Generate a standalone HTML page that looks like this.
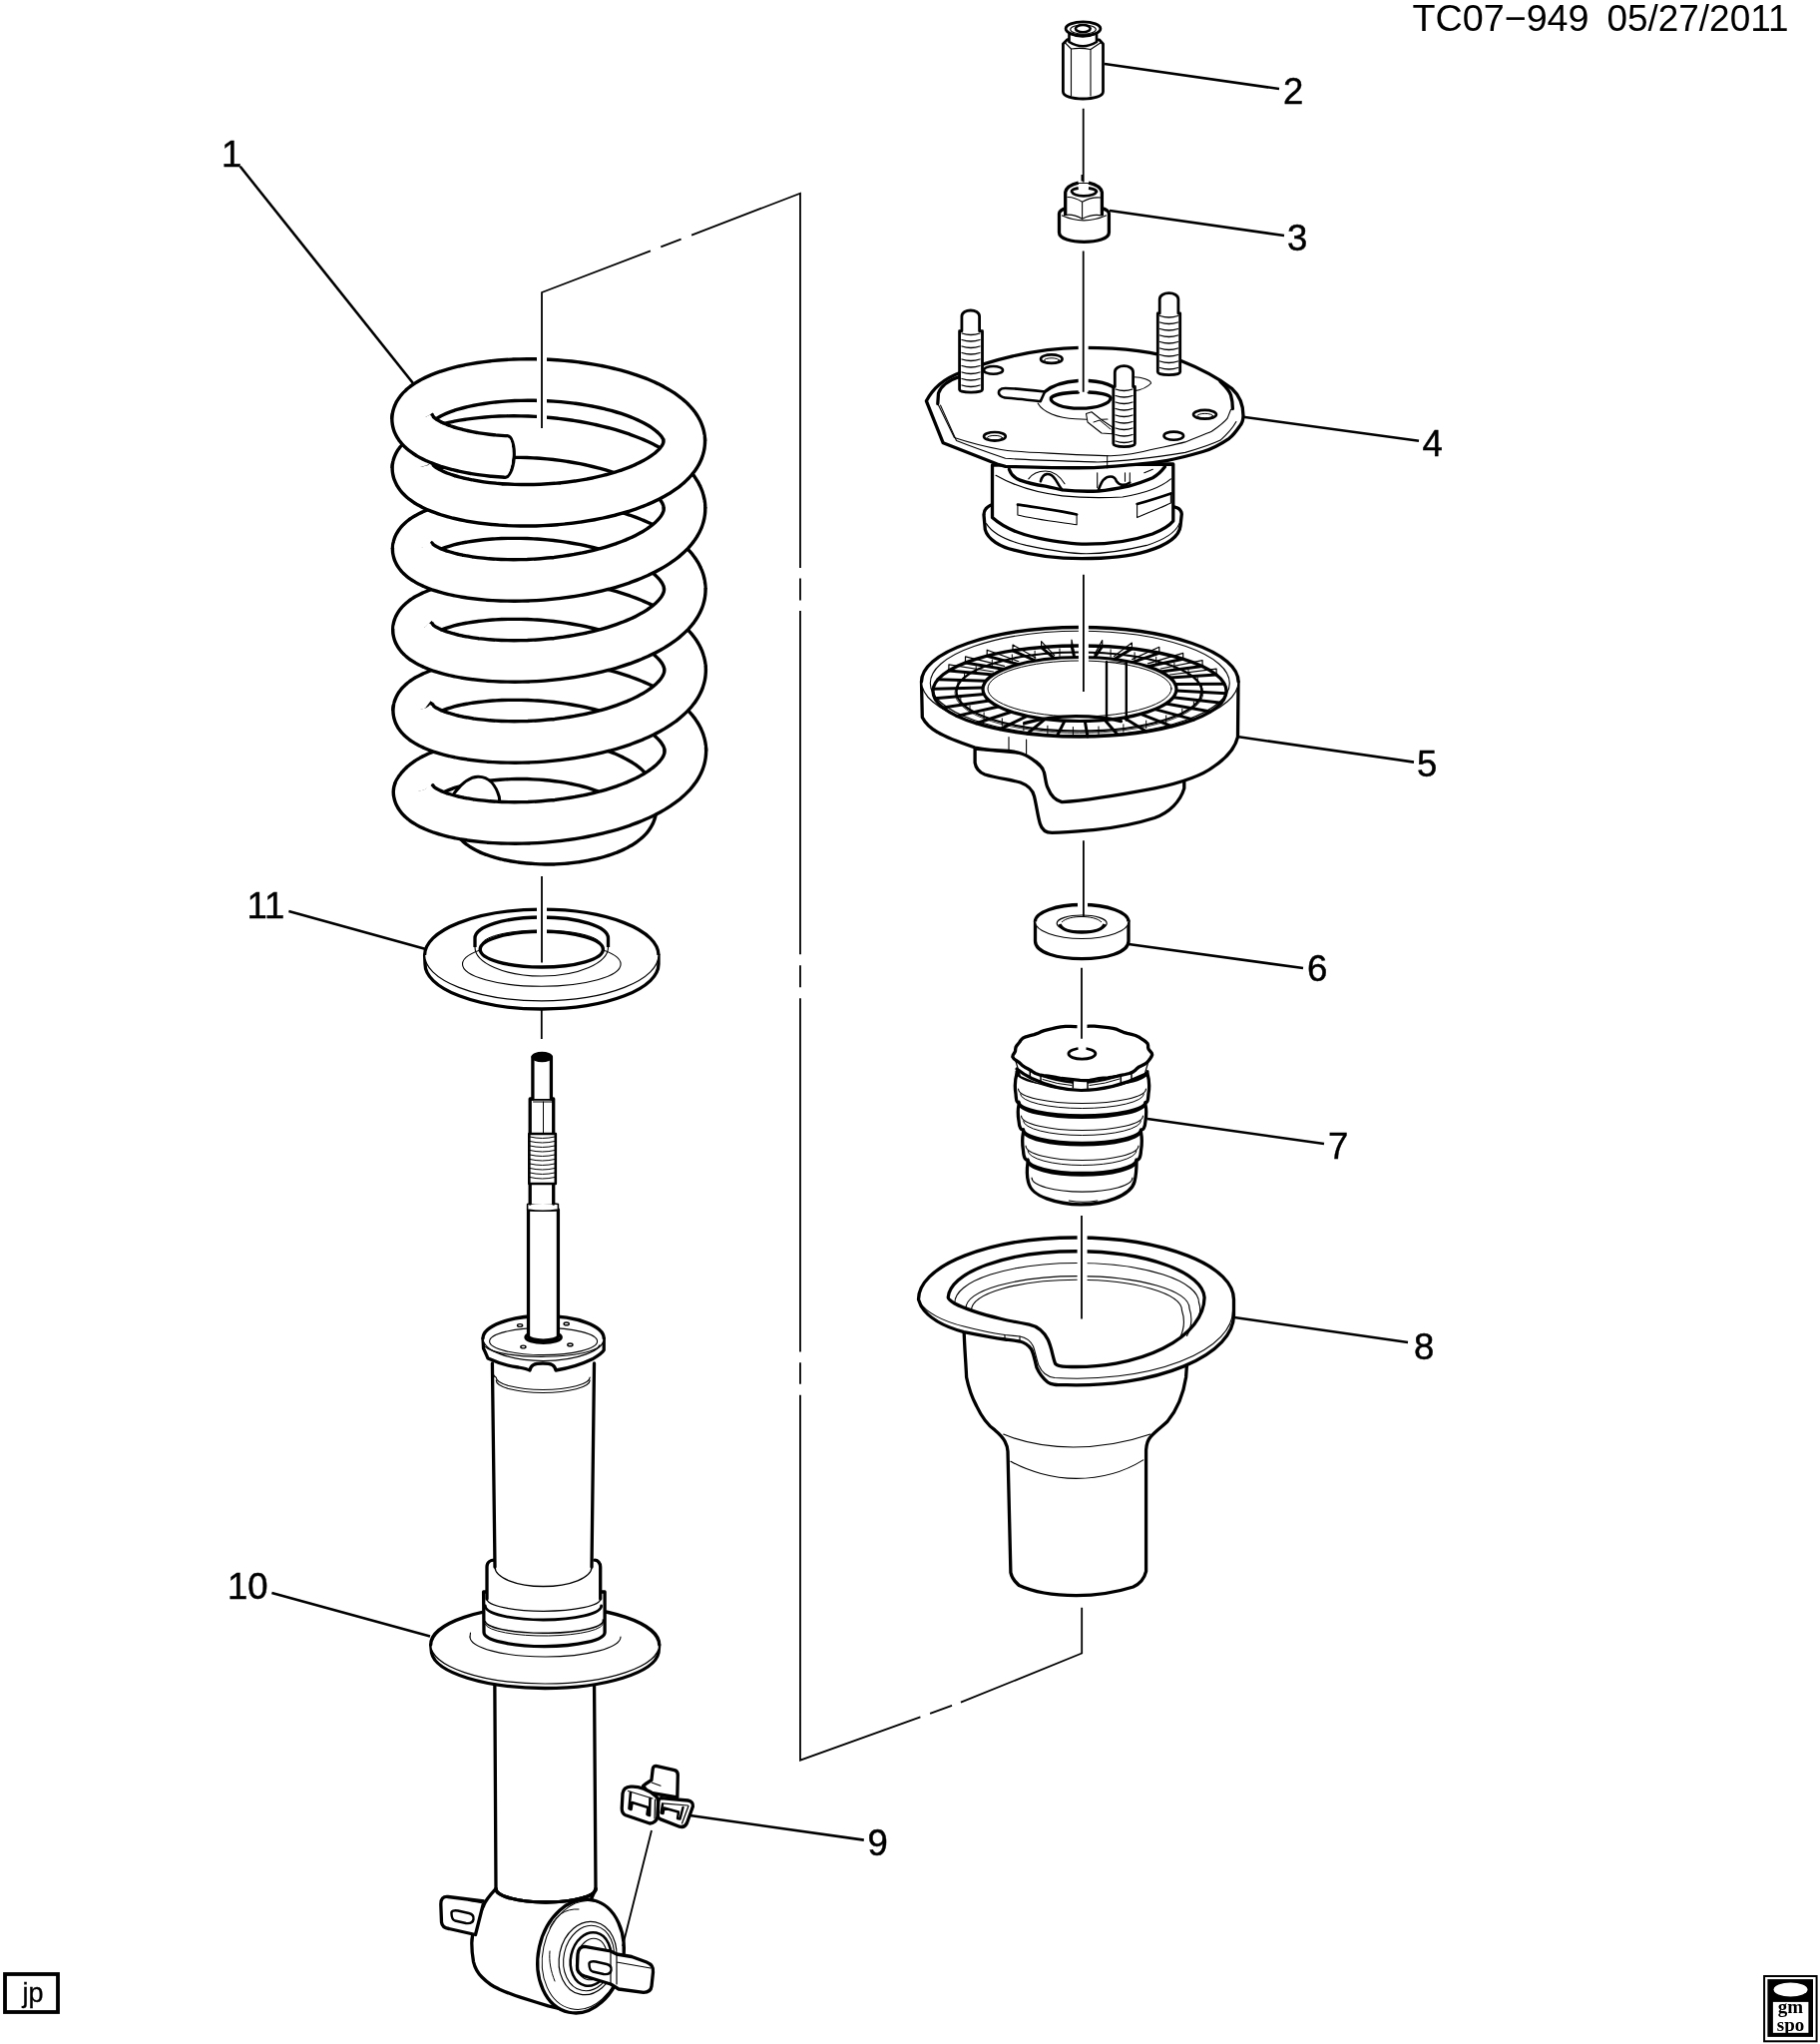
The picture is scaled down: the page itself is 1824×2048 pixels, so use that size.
<!DOCTYPE html>
<html><head><meta charset="utf-8">
<style>
html,body{margin:0;padding:0;background:#fff;}
body{width:1824px;height:2048px;overflow:hidden;}
svg{display:block;will-change:transform;}
text{font-family:"Liberation Sans",sans-serif;fill:#000;}
</style></head>
<body>
<svg width="1824" height="2048" viewBox="0 0 1824 2048">
<rect x="0" y="0" width="1824" height="2048" fill="#fff"/>
<!-- header -->
<text x="1415.5" y="31" font-size="37.5" textLength="177" lengthAdjust="spacingAndGlyphs">TC07&#8722;949</text>
<text x="1610.5" y="31" font-size="37.5" textLength="182" lengthAdjust="spacingAndGlyphs">05/27/2011</text>

<!-- labels -->
<g font-size="36.5" stroke="#000" stroke-width="0.45">
<text x="222" y="166.8">1</text>
<text x="1286" y="104.4">2</text>
<text x="1290" y="250.6">3</text>
<text x="1425.5" y="457">4</text>
<text x="1420" y="778">5</text>
<text x="1310" y="983">6</text>
<text x="1331" y="1161">7</text>
<text x="1417" y="1362">8</text>
<text x="869.5" y="1858.8">9</text>
<text x="228" y="1602.2">10</text>
<text x="247.5" y="919.8">11</text>
</g>

<!-- leader lines -->
<g stroke="#000" stroke-width="2.6" fill="none" stroke-linecap="butt">
<line x1="240.7" y1="166.8" x2="414" y2="384"/>
<line x1="1107" y1="64" x2="1282" y2="89"/>
<line x1="1112" y1="211" x2="1287" y2="236"/>
<line x1="1245.8" y1="417.7" x2="1422" y2="441.7"/>
<line x1="1241.4" y1="738.3" x2="1417" y2="763.6"/>
<line x1="1131" y1="946" x2="1306" y2="970"/>
<line x1="1150" y1="1121" x2="1327" y2="1146"/>
<line x1="1237" y1="1320" x2="1411" y2="1345"/>
<line x1="691.4" y1="1819" x2="865.8" y2="1843.6"/>
<line x1="272.4" y1="1595.9" x2="431" y2="1639.5"/>
<line x1="289.4" y1="912.9" x2="425.9" y2="950.8"/>
</g>

<g id="spring" fill="none" stroke-linecap="butt" stroke-linejoin="round">
<path d="M473.0,818.0 473.0,817.7 473.0,817.4 473.0,817.1 473.1,816.7 473.1,816.4 473.2,816.1 473.2,815.8 473.3,815.5 473.4,815.2 473.4,814.8 473.5,814.5 473.6,814.2 473.8,813.9 473.9,813.6 474.0,813.3 474.1,813.0 474.3,812.7 474.5,812.3 474.6,812.0 474.8,811.7 474.8,811.7" stroke="#000" stroke-width="44.9"/>
<path d="M473.0,818.0 473.0,817.7 473.0,817.4 473.0,817.1 473.1,816.7 473.1,816.4 473.2,816.1 473.2,815.8 473.3,815.5 473.4,815.2 473.4,814.8 473.5,814.5 473.6,814.2 473.8,813.9 473.9,813.6 474.0,813.3 474.1,813.0 474.3,812.7 474.5,812.3 474.6,812.0 474.8,811.7 474.8,811.7" stroke="#fff" stroke-width="38.1"/>
<path d="M415.0,793.0 415.2,792.5 415.4,792.1 415.6,791.6 415.9,791.1 416.2,790.7 416.4,790.2 416.7,789.8 417.0,789.3 417.3,788.9 417.7,788.4 418.0,788.0 418.4,787.5 418.7,787.1 419.1,786.6 419.5,786.2 420.0,785.7 420.4,785.3 420.8,784.9 421.3,784.4 421.8,784.0 422.2,783.6 422.7,783.2 423.3,782.7 423.8,782.3 424.3,781.9 424.9,781.5 425.4,781.1 426.0,780.7 426.6,780.3 427.2,779.8 427.8,779.4 428.4,779.1 429.1,778.7 429.7,778.3 430.4,777.9 431.1,777.5 431.7,777.1 432.4,776.7 433.1,776.4 433.9,776.0 437.6,774.2 441.7,772.5 446.0,770.8 450.5,769.3 455.3,767.9 460.2,766.6 465.4,765.4 470.7,764.3 476.2,763.3 481.8,762.4 487.5,761.7 493.3,761.1 499.2,760.6 505.2,760.2 511.2,759.9 517.2,759.8 523.3,759.7 529.3,759.8 535.3,760.1 541.3,760.4 547.2,760.8 553.0,761.4 558.7,762.1 564.3,762.8 569.8,763.7 575.2,764.7 580.4,765.8 585.4,766.9 590.3,768.2 594.9,769.5 599.4,771.0 603.7,772.5 607.7,774.0 611.5,775.7 615.1,777.4 618.4,779.1 621.5,780.9 624.4,782.7 627.0,784.6 629.3,786.5 631.3,788.5 633.1,790.4 634.7,792.4 636.0,794.4 637.0,796.4 637.1,796.8 637.3,797.2 637.5,797.6 637.6,798.0 637.7,798.4 637.8,798.8 638.0,799.2 638.1,799.6 638.1,799.9 638.2,800.3 638.3,800.7 638.3,801.1 638.4,801.5 638.4,801.9 638.5,802.3 638.5,802.7 638.5,803.1 638.5,803.5 638.5,803.9 638.5,804.3 638.4,804.7 638.4,805.1 638.3,805.4 638.3,805.8 638.2,806.2 638.1,806.6 638.0,807.0 637.9,807.4 637.8,807.7 637.7,808.1 637.6,808.5 637.5,808.9 637.3,809.3 637.2,809.6 637.0,810.0 637.0,810.0" stroke="#000" stroke-width="44.9"/>
<path d="M415.0,793.0 415.2,792.5 415.4,792.1 415.6,791.6 415.9,791.1 416.2,790.7 416.4,790.2 416.7,789.8 417.0,789.3 417.3,788.9 417.7,788.4 418.0,788.0 418.4,787.5 418.7,787.1 419.1,786.6 419.5,786.2 420.0,785.7 420.4,785.3 420.8,784.9 421.3,784.4 421.8,784.0 422.2,783.6 422.7,783.2 423.3,782.7 423.8,782.3 424.3,781.9 424.9,781.5 425.4,781.1 426.0,780.7 426.6,780.3 427.2,779.8 427.8,779.4 428.4,779.1 429.1,778.7 429.7,778.3 430.4,777.9 431.1,777.5 431.7,777.1 432.4,776.7 433.1,776.4 433.9,776.0 437.6,774.2 441.7,772.5 446.0,770.8 450.5,769.3 455.3,767.9 460.2,766.6 465.4,765.4 470.7,764.3 476.2,763.3 481.8,762.4 487.5,761.7 493.3,761.1 499.2,760.6 505.2,760.2 511.2,759.9 517.2,759.8 523.3,759.7 529.3,759.8 535.3,760.1 541.3,760.4 547.2,760.8 553.0,761.4 558.7,762.1 564.3,762.8 569.8,763.7 575.2,764.7 580.4,765.8 585.4,766.9 590.3,768.2 594.9,769.5 599.4,771.0 603.7,772.5 607.7,774.0 611.5,775.7 615.1,777.4 618.4,779.1 621.5,780.9 624.4,782.7 627.0,784.6 629.3,786.5 631.3,788.5 633.1,790.4 634.7,792.4 636.0,794.4 637.0,796.4 637.1,796.8 637.3,797.2 637.5,797.6 637.6,798.0 637.7,798.4 637.8,798.8 638.0,799.2 638.1,799.6 638.1,799.9 638.2,800.3 638.3,800.7 638.3,801.1 638.4,801.5 638.4,801.9 638.5,802.3 638.5,802.7 638.5,803.1 638.5,803.5 638.5,803.9 638.5,804.3 638.4,804.7 638.4,805.1 638.3,805.4 638.3,805.8 638.2,806.2 638.1,806.6 638.0,807.0 637.9,807.4 637.8,807.7 637.7,808.1 637.6,808.5 637.5,808.9 637.3,809.3 637.2,809.6 637.0,810.0 637.0,810.0" stroke="#fff" stroke-width="38.1"/>
<path d="M414.7,712.0 414.7,711.6 414.8,711.2 414.8,710.8 414.8,710.4 414.9,710.1 415.0,709.7 415.1,709.3 415.2,708.9 415.3,708.5 415.5,708.1 415.6,707.7 415.8,707.3 416.0,707.0 416.2,706.6 416.4,706.2 416.6,705.8 416.9,705.4 417.1,705.1 417.4,704.7 417.7,704.3 418.0,703.9 418.3,703.5 418.7,703.2 419.0,702.8 419.4,702.4 419.7,702.1 420.1,701.7 420.5,701.3 421.0,700.9 421.4,700.6 421.8,700.2 422.3,699.9 422.8,699.5 423.3,699.1 423.8,698.8 424.3,698.4 424.8,698.1 425.4,697.7 425.9,697.4 426.5,697.0 429.6,695.4 433.0,693.7 436.7,692.2 440.7,690.7 445.1,689.3 449.7,688.0 454.6,686.7 459.8,685.6 465.2,684.6 470.8,683.7 476.7,682.9 482.8,682.2 489.0,681.6 495.5,681.1 502.0,680.8 508.8,680.6 515.6,680.5 522.5,680.6 529.5,680.8 536.6,681.1 543.7,681.6 550.8,682.2 557.9,682.9 565.0,683.8 572.1,684.8 579.1,686.0 586.0,687.3 592.8,688.7 599.5,690.3 606.1,691.9 612.6,693.7 618.8,695.7 624.9,697.7 630.8,699.9 636.4,702.1 641.8,704.5 647.0,707.0 651.9,709.6 656.5,712.2 660.9,715.0 664.9,717.8 668.6,720.7 672.0,723.7 675.1,726.7 677.8,729.8 678.3,730.5 678.8,731.1 679.3,731.7 679.7,732.4 680.2,733.0 680.6,733.6 681.0,734.3 681.5,734.9 681.8,735.5 682.2,736.2 682.6,736.8 682.9,737.5 683.3,738.1 683.6,738.7 683.9,739.4 684.2,740.0 684.4,740.7 684.7,741.3 685.0,742.0 685.2,742.6 685.4,743.3 685.6,744.0 685.8,744.6 686.0,745.3 686.1,745.9 686.3,746.6 686.4,747.2 686.5,747.9 686.6,748.5 686.7,749.2 686.7,749.9 686.8,750.5 686.8,751.2 686.9,751.8 686.9,752.5 686.9,752.5" stroke="#000" stroke-width="44.9"/>
<path d="M414.7,712.0 414.7,711.6 414.8,711.2 414.8,710.8 414.8,710.4 414.9,710.1 415.0,709.7 415.1,709.3 415.2,708.9 415.3,708.5 415.5,708.1 415.6,707.7 415.8,707.3 416.0,707.0 416.2,706.6 416.4,706.2 416.6,705.8 416.9,705.4 417.1,705.1 417.4,704.7 417.7,704.3 418.0,703.9 418.3,703.5 418.7,703.2 419.0,702.8 419.4,702.4 419.7,702.1 420.1,701.7 420.5,701.3 421.0,700.9 421.4,700.6 421.8,700.2 422.3,699.9 422.8,699.5 423.3,699.1 423.8,698.8 424.3,698.4 424.8,698.1 425.4,697.7 425.9,697.4 426.5,697.0 429.6,695.4 433.0,693.7 436.7,692.2 440.7,690.7 445.1,689.3 449.7,688.0 454.6,686.7 459.8,685.6 465.2,684.6 470.8,683.7 476.7,682.9 482.8,682.2 489.0,681.6 495.5,681.1 502.0,680.8 508.8,680.6 515.6,680.5 522.5,680.6 529.5,680.8 536.6,681.1 543.7,681.6 550.8,682.2 557.9,682.9 565.0,683.8 572.1,684.8 579.1,686.0 586.0,687.3 592.8,688.7 599.5,690.3 606.1,691.9 612.6,693.7 618.8,695.7 624.9,697.7 630.8,699.9 636.4,702.1 641.8,704.5 647.0,707.0 651.9,709.6 656.5,712.2 660.9,715.0 664.9,717.8 668.6,720.7 672.0,723.7 675.1,726.7 677.8,729.8 678.3,730.5 678.8,731.1 679.3,731.7 679.7,732.4 680.2,733.0 680.6,733.6 681.0,734.3 681.5,734.9 681.8,735.5 682.2,736.2 682.6,736.8 682.9,737.5 683.3,738.1 683.6,738.7 683.9,739.4 684.2,740.0 684.4,740.7 684.7,741.3 685.0,742.0 685.2,742.6 685.4,743.3 685.6,744.0 685.8,744.6 686.0,745.3 686.1,745.9 686.3,746.6 686.4,747.2 686.5,747.9 686.6,748.5 686.7,749.2 686.7,749.9 686.8,750.5 686.8,751.2 686.9,751.8 686.9,752.5 686.9,752.5" stroke="#fff" stroke-width="38.1"/>
<path d="M414.5,631.0 414.5,630.6 414.5,630.2 414.5,629.8 414.6,629.4 414.6,629.1 414.7,628.7 414.8,628.3 414.9,627.9 415.1,627.5 415.2,627.1 415.4,626.7 415.5,626.3 415.7,626.0 415.9,625.6 416.1,625.2 416.4,624.8 416.6,624.4 416.9,624.1 417.1,623.7 417.4,623.3 417.7,622.9 418.1,622.5 418.4,622.2 418.7,621.8 419.1,621.4 419.5,621.1 419.9,620.7 420.3,620.3 420.7,619.9 421.1,619.6 421.6,619.2 422.0,618.9 422.5,618.5 423.0,618.1 423.5,617.8 424.0,617.4 424.6,617.1 425.1,616.7 425.7,616.4 426.2,616.0 429.3,614.4 432.7,612.7 436.4,611.2 440.5,609.7 444.8,608.3 449.4,607.0 454.3,605.7 459.5,604.6 464.9,603.6 470.6,602.7 476.4,601.9 482.5,601.2 488.8,600.6 495.2,600.1 501.8,599.8 508.5,599.6 515.3,599.5 522.2,599.6 529.2,599.8 536.3,600.1 543.4,600.6 550.5,601.2 557.6,601.9 564.7,602.8 571.8,603.8 578.8,605.0 585.7,606.3 592.6,607.7 599.3,609.3 605.9,610.9 612.3,612.7 618.5,614.7 624.6,616.7 630.5,618.9 636.1,621.1 641.6,623.5 646.7,626.0 651.6,628.6 656.3,631.2 660.6,634.0 664.6,636.8 668.3,639.7 671.7,642.7 674.8,645.7 677.5,648.8 678.0,649.5 678.5,650.1 679.0,650.7 679.5,651.4 679.9,652.0 680.4,652.6 680.8,653.3 681.2,653.9 681.6,654.5 681.9,655.2 682.3,655.8 682.7,656.5 683.0,657.1 683.3,657.7 683.6,658.4 683.9,659.0 684.2,659.7 684.4,660.3 684.7,661.0 684.9,661.6 685.1,662.3 685.3,663.0 685.5,663.6 685.7,664.3 685.8,664.9 686.0,665.6 686.1,666.2 686.2,666.9 686.3,667.5 686.4,668.2 686.5,668.9 686.5,669.5 686.6,670.2 686.6,670.8 686.6,671.5 686.6,671.5" stroke="#000" stroke-width="44.9"/>
<path d="M414.5,631.0 414.5,630.6 414.5,630.2 414.5,629.8 414.6,629.4 414.6,629.1 414.7,628.7 414.8,628.3 414.9,627.9 415.1,627.5 415.2,627.1 415.4,626.7 415.5,626.3 415.7,626.0 415.9,625.6 416.1,625.2 416.4,624.8 416.6,624.4 416.9,624.1 417.1,623.7 417.4,623.3 417.7,622.9 418.1,622.5 418.4,622.2 418.7,621.8 419.1,621.4 419.5,621.1 419.9,620.7 420.3,620.3 420.7,619.9 421.1,619.6 421.6,619.2 422.0,618.9 422.5,618.5 423.0,618.1 423.5,617.8 424.0,617.4 424.6,617.1 425.1,616.7 425.7,616.4 426.2,616.0 429.3,614.4 432.7,612.7 436.4,611.2 440.5,609.7 444.8,608.3 449.4,607.0 454.3,605.7 459.5,604.6 464.9,603.6 470.6,602.7 476.4,601.9 482.5,601.2 488.8,600.6 495.2,600.1 501.8,599.8 508.5,599.6 515.3,599.5 522.2,599.6 529.2,599.8 536.3,600.1 543.4,600.6 550.5,601.2 557.6,601.9 564.7,602.8 571.8,603.8 578.8,605.0 585.7,606.3 592.6,607.7 599.3,609.3 605.9,610.9 612.3,612.7 618.5,614.7 624.6,616.7 630.5,618.9 636.1,621.1 641.6,623.5 646.7,626.0 651.6,628.6 656.3,631.2 660.6,634.0 664.6,636.8 668.3,639.7 671.7,642.7 674.8,645.7 677.5,648.8 678.0,649.5 678.5,650.1 679.0,650.7 679.5,651.4 679.9,652.0 680.4,652.6 680.8,653.3 681.2,653.9 681.6,654.5 681.9,655.2 682.3,655.8 682.7,656.5 683.0,657.1 683.3,657.7 683.6,658.4 683.9,659.0 684.2,659.7 684.4,660.3 684.7,661.0 684.9,661.6 685.1,662.3 685.3,663.0 685.5,663.6 685.7,664.3 685.8,664.9 686.0,665.6 686.1,666.2 686.2,666.9 686.3,667.5 686.4,668.2 686.5,668.9 686.5,669.5 686.6,670.2 686.6,670.8 686.6,671.5 686.6,671.5" stroke="#fff" stroke-width="38.1"/>
<path d="M414.2,550.0 414.2,549.6 414.2,549.2 414.3,548.8 414.3,548.4 414.4,548.1 414.5,547.7 414.6,547.3 414.7,546.9 414.8,546.5 414.9,546.1 415.1,545.7 415.3,545.3 415.4,545.0 415.6,544.6 415.9,544.2 416.1,543.8 416.3,543.4 416.6,543.1 416.9,542.7 417.2,542.3 417.5,541.9 417.8,541.5 418.1,541.2 418.5,540.8 418.8,540.4 419.2,540.1 419.6,539.7 420.0,539.3 420.4,538.9 420.9,538.6 421.3,538.2 421.8,537.9 422.2,537.5 422.7,537.1 423.2,536.8 423.7,536.4 424.3,536.1 424.8,535.7 425.4,535.4 426.0,535.0 429.0,533.4 432.4,531.7 436.1,530.2 440.2,528.7 444.5,527.3 449.1,526.0 454.0,524.7 459.2,523.6 464.6,522.6 470.3,521.7 476.2,520.9 482.2,520.2 488.5,519.6 494.9,519.1 501.5,518.8 508.2,518.6 515.0,518.5 522.0,518.6 529.0,518.8 536.0,519.1 543.1,519.6 550.3,520.2 557.4,520.9 564.5,521.8 571.5,522.8 578.5,524.0 585.5,525.3 592.3,526.7 599.0,528.3 605.6,529.9 612.0,531.7 618.3,533.7 624.3,535.7 630.2,537.9 635.9,540.1 641.3,542.5 646.5,545.0 651.4,547.6 656.0,550.2 660.3,553.0 664.4,555.8 668.1,558.7 671.5,561.7 674.5,564.7 677.3,567.8 677.8,568.5 678.3,569.1 678.7,569.7 679.2,570.4 679.6,571.0 680.1,571.6 680.5,572.3 680.9,572.9 681.3,573.5 681.7,574.2 682.0,574.8 682.4,575.5 682.7,576.1 683.0,576.7 683.3,577.4 683.6,578.0 683.9,578.7 684.2,579.3 684.4,580.0 684.6,580.6 684.9,581.3 685.1,582.0 685.2,582.6 685.4,583.3 685.6,583.9 685.7,584.6 685.8,585.2 685.9,585.9 686.0,586.5 686.1,587.2 686.2,587.9 686.2,588.5 686.3,589.2 686.3,589.8 686.3,590.5 686.3,590.5" stroke="#000" stroke-width="44.9"/>
<path d="M414.2,550.0 414.2,549.6 414.2,549.2 414.3,548.8 414.3,548.4 414.4,548.1 414.5,547.7 414.6,547.3 414.7,546.9 414.8,546.5 414.9,546.1 415.1,545.7 415.3,545.3 415.4,545.0 415.6,544.6 415.9,544.2 416.1,543.8 416.3,543.4 416.6,543.1 416.9,542.7 417.2,542.3 417.5,541.9 417.8,541.5 418.1,541.2 418.5,540.8 418.8,540.4 419.2,540.1 419.6,539.7 420.0,539.3 420.4,538.9 420.9,538.6 421.3,538.2 421.8,537.9 422.2,537.5 422.7,537.1 423.2,536.8 423.7,536.4 424.3,536.1 424.8,535.7 425.4,535.4 426.0,535.0 429.0,533.4 432.4,531.7 436.1,530.2 440.2,528.7 444.5,527.3 449.1,526.0 454.0,524.7 459.2,523.6 464.6,522.6 470.3,521.7 476.2,520.9 482.2,520.2 488.5,519.6 494.9,519.1 501.5,518.8 508.2,518.6 515.0,518.5 522.0,518.6 529.0,518.8 536.0,519.1 543.1,519.6 550.3,520.2 557.4,520.9 564.5,521.8 571.5,522.8 578.5,524.0 585.5,525.3 592.3,526.7 599.0,528.3 605.6,529.9 612.0,531.7 618.3,533.7 624.3,535.7 630.2,537.9 635.9,540.1 641.3,542.5 646.5,545.0 651.4,547.6 656.0,550.2 660.3,553.0 664.4,555.8 668.1,558.7 671.5,561.7 674.5,564.7 677.3,567.8 677.8,568.5 678.3,569.1 678.7,569.7 679.2,570.4 679.6,571.0 680.1,571.6 680.5,572.3 680.9,572.9 681.3,573.5 681.7,574.2 682.0,574.8 682.4,575.5 682.7,576.1 683.0,576.7 683.3,577.4 683.6,578.0 683.9,578.7 684.2,579.3 684.4,580.0 684.6,580.6 684.9,581.3 685.1,582.0 685.2,582.6 685.4,583.3 685.6,583.9 685.7,584.6 685.8,585.2 685.9,585.9 686.0,586.5 686.1,587.2 686.2,587.9 686.2,588.5 686.3,589.2 686.3,589.8 686.3,590.5 686.3,590.5" stroke="#fff" stroke-width="38.1"/>
<path d="M413.9,469.0 413.9,468.6 413.9,468.2 414.0,467.8 414.0,467.4 414.1,467.1 414.2,466.7 414.3,466.3 414.4,465.9 414.5,465.5 414.7,465.1 414.8,464.7 415.0,464.3 415.2,464.0 415.4,463.6 415.6,463.2 415.8,462.8 416.1,462.4 416.3,462.1 416.6,461.7 416.9,461.3 417.2,460.9 417.5,460.5 417.8,460.2 418.2,459.8 418.6,459.4 418.9,459.1 419.3,458.7 419.7,458.3 420.1,457.9 420.6,457.6 421.0,457.2 421.5,456.9 422.0,456.5 422.5,456.1 423.0,455.8 423.5,455.4 424.0,455.1 424.6,454.7 425.1,454.4 425.7,454.0 428.8,452.4 432.2,450.7 435.9,449.2 439.9,447.7 444.2,446.3 448.9,445.0 453.8,443.7 458.9,442.6 464.4,441.6 470.0,440.7 475.9,439.9 482.0,439.2 488.2,438.6 494.6,438.1 501.2,437.8 507.9,437.6 514.8,437.5 521.7,437.6 528.7,437.8 535.8,438.1 542.9,438.6 550.0,439.2 557.1,439.9 564.2,440.8 571.3,441.8 578.3,443.0 585.2,444.3 592.0,445.7 598.7,447.3 605.3,448.9 611.7,450.7 618.0,452.7 624.1,454.7 629.9,456.9 635.6,459.1 641.0,461.5 646.2,464.0 651.1,466.6 655.7,469.2 660.0,472.0 664.1,474.8 667.8,477.7 671.2,480.7 674.3,483.7 677.0,486.8 677.5,487.5 678.0,488.1 678.5,488.7 678.9,489.4 679.4,490.0 679.8,490.6 680.2,491.3 680.6,491.9 681.0,492.5 681.4,493.2 681.8,493.8 682.1,494.5 682.4,495.1 682.8,495.7 683.1,496.4 683.4,497.0 683.6,497.7 683.9,498.3 684.1,499.0 684.4,499.6 684.6,500.3 684.8,501.0 685.0,501.6 685.1,502.3 685.3,502.9 685.4,503.6 685.6,504.2 685.7,504.9 685.8,505.5 685.9,506.2 685.9,506.9 686.0,507.5 686.0,508.2 686.0,508.8 686.0,509.5" stroke="#000" stroke-width="44.9"/>
<path d="M413.9,469.0 413.9,468.6 413.9,468.2 414.0,467.8 414.0,467.4 414.1,467.1 414.2,466.7 414.3,466.3 414.4,465.9 414.5,465.5 414.7,465.1 414.8,464.7 415.0,464.3 415.2,464.0 415.4,463.6 415.6,463.2 415.8,462.8 416.1,462.4 416.3,462.1 416.6,461.7 416.9,461.3 417.2,460.9 417.5,460.5 417.8,460.2 418.2,459.8 418.6,459.4 418.9,459.1 419.3,458.7 419.7,458.3 420.1,457.9 420.6,457.6 421.0,457.2 421.5,456.9 422.0,456.5 422.5,456.1 423.0,455.8 423.5,455.4 424.0,455.1 424.6,454.7 425.1,454.4 425.7,454.0 428.8,452.4 432.2,450.7 435.9,449.2 439.9,447.7 444.2,446.3 448.9,445.0 453.8,443.7 458.9,442.6 464.4,441.6 470.0,440.7 475.9,439.9 482.0,439.2 488.2,438.6 494.6,438.1 501.2,437.8 507.9,437.6 514.8,437.5 521.7,437.6 528.7,437.8 535.8,438.1 542.9,438.6 550.0,439.2 557.1,439.9 564.2,440.8 571.3,441.8 578.3,443.0 585.2,444.3 592.0,445.7 598.7,447.3 605.3,448.9 611.7,450.7 618.0,452.7 624.1,454.7 629.9,456.9 635.6,459.1 641.0,461.5 646.2,464.0 651.1,466.6 655.7,469.2 660.0,472.0 664.1,474.8 667.8,477.7 671.2,480.7 674.3,483.7 677.0,486.8 677.5,487.5 678.0,488.1 678.5,488.7 678.9,489.4 679.4,490.0 679.8,490.6 680.2,491.3 680.6,491.9 681.0,492.5 681.4,493.2 681.8,493.8 682.1,494.5 682.4,495.1 682.8,495.7 683.1,496.4 683.4,497.0 683.6,497.7 683.9,498.3 684.1,499.0 684.4,499.6 684.6,500.3 684.8,501.0 685.0,501.6 685.1,502.3 685.3,502.9 685.4,503.6 685.6,504.2 685.7,504.9 685.8,505.5 685.9,506.2 685.9,506.9 686.0,507.5 686.0,508.2 686.0,508.8 686.0,509.5" stroke="#fff" stroke-width="38.1"/>
<path d="M413.6,420.0 413.6,419.5 413.7,419.1 413.7,418.6 413.8,418.2 413.8,417.7 413.9,417.3 414.0,416.8 414.1,416.4 414.2,416.0 414.4,415.5 414.5,415.1 414.7,414.6 414.9,414.2 415.1,413.7 415.3,413.3 415.5,412.8 415.8,412.4 416.1,411.9 416.3,411.5 416.6,411.1 416.9,410.6 417.2,410.2 417.6,409.7 417.9,409.3 418.3,408.9 418.7,408.4 419.0,408.0 419.5,407.6 419.9,407.2 420.3,406.7 420.8,406.3 421.2,405.9 421.7,405.5 422.2,405.0 422.7,404.6 423.2,404.2 423.7,403.8 424.3,403.4 424.8,403.0 425.4,402.6 428.5,400.6 431.9,398.6 435.6,396.8 439.6,395.0 444.0,393.3 448.6,391.6 453.5,390.1 458.7,388.7 464.1,387.3 469.7,386.1 475.6,385.0 481.7,384.0 487.9,383.1 494.4,382.3 501.0,381.7 507.7,381.2 514.5,380.8 521.4,380.6 528.4,380.5 535.5,380.5 542.6,380.7 549.7,381.0 556.8,381.4 563.9,382.0 571.0,382.7 578.0,383.5 584.9,384.5 591.7,385.6 598.5,386.8 605.0,388.2 611.5,389.7 617.7,391.3 623.8,393.1 629.7,394.9 635.3,396.9 640.7,398.9 645.9,401.1 650.8,403.4 655.4,405.7 659.8,408.2 663.8,410.7 667.5,413.3 670.9,416.0 674.0,418.7 676.7,421.5 677.2,422.1 677.7,422.6 678.2,423.2 678.7,423.8 679.1,424.3 679.5,424.9 680.0,425.5 680.4,426.1 680.8,426.6 681.1,427.2 681.5,427.8 681.8,428.4 682.2,429.0 682.5,429.5 682.8,430.1 683.1,430.7 683.4,431.3 683.6,431.9 683.9,432.5 684.1,433.1 684.3,433.7 684.5,434.3 684.7,434.8 684.9,435.4 685.0,436.0 685.2,436.6 685.3,437.2 685.4,437.8 685.5,438.4 685.6,439.0 685.7,439.6 685.7,440.2 685.7,440.8 685.8,441.4 685.8,442.0" stroke="#000" stroke-width="44.9"/>
<path d="M413.6,420.0 413.6,419.5 413.7,419.1 413.7,418.6 413.8,418.2 413.8,417.7 413.9,417.3 414.0,416.8 414.1,416.4 414.2,416.0 414.4,415.5 414.5,415.1 414.7,414.6 414.9,414.2 415.1,413.7 415.3,413.3 415.5,412.8 415.8,412.4 416.1,411.9 416.3,411.5 416.6,411.1 416.9,410.6 417.2,410.2 417.6,409.7 417.9,409.3 418.3,408.9 418.7,408.4 419.0,408.0 419.5,407.6 419.9,407.2 420.3,406.7 420.8,406.3 421.2,405.9 421.7,405.5 422.2,405.0 422.7,404.6 423.2,404.2 423.7,403.8 424.3,403.4 424.8,403.0 425.4,402.6 428.5,400.6 431.9,398.6 435.6,396.8 439.6,395.0 444.0,393.3 448.6,391.6 453.5,390.1 458.7,388.7 464.1,387.3 469.7,386.1 475.6,385.0 481.7,384.0 487.9,383.1 494.4,382.3 501.0,381.7 507.7,381.2 514.5,380.8 521.4,380.6 528.4,380.5 535.5,380.5 542.6,380.7 549.7,381.0 556.8,381.4 563.9,382.0 571.0,382.7 578.0,383.5 584.9,384.5 591.7,385.6 598.5,386.8 605.0,388.2 611.5,389.7 617.7,391.3 623.8,393.1 629.7,394.9 635.3,396.9 640.7,398.9 645.9,401.1 650.8,403.4 655.4,405.7 659.8,408.2 663.8,410.7 667.5,413.3 670.9,416.0 674.0,418.7 676.7,421.5 677.2,422.1 677.7,422.6 678.2,423.2 678.7,423.8 679.1,424.3 679.5,424.9 680.0,425.5 680.4,426.1 680.8,426.6 681.1,427.2 681.5,427.8 681.8,428.4 682.2,429.0 682.5,429.5 682.8,430.1 683.1,430.7 683.4,431.3 683.6,431.9 683.9,432.5 684.1,433.1 684.3,433.7 684.5,434.3 684.7,434.8 684.9,435.4 685.0,436.0 685.2,436.6 685.3,437.2 685.4,437.8 685.5,438.4 685.6,439.0 685.7,439.6 685.7,440.2 685.7,440.8 685.8,441.4 685.8,442.0" stroke="#fff" stroke-width="38.1"/>
<path d="M637.4,809.1 637.2,809.4 637.1,809.8 637.0,810.2 637.0,810.5 637.0,810.9 636.9,811.2 636.9,811.6 636.9,811.9 636.8,812.3 636.7,812.6 636.7,813.0 636.6,813.3 636.5,813.7 636.4,814.0 636.3,814.4 636.2,814.7 636.1,815.0 635.9,815.4 635.8,815.7 635.6,816.1 635.5,816.4 635.3,816.8 635.1,817.1 634.9,817.5 634.7,817.8 634.5,818.1 634.3,818.5 634.1,818.8 633.9,819.2 633.6,819.5 633.4,819.8 633.1,820.2 632.9,820.5 632.6,820.8 632.3,821.2 632.0,821.5 631.7,821.8 631.4,822.1 631.1,822.5 630.8,822.8 630.4,823.1 630.1,823.4 628.3,825.0 626.2,826.6 624.0,828.1 621.6,829.6 619.0,831.0 616.2,832.4 613.3,833.7 610.2,835.0 606.9,836.2 603.5,837.3 600.0,838.4 596.4,839.4 592.6,840.3 588.7,841.2 584.8,841.9 580.7,842.6 576.6,843.3 572.5,843.8 568.3,844.3 564.0,844.6 559.7,844.9 555.4,845.2 551.1,845.2 546.9,845.2 542.6,845.1 538.4,844.9 534.2,844.7 530.1,844.3 526.0,843.9 522.0,843.4 518.2,842.8 514.4,842.2 510.7,841.5 507.1,840.7 503.7,839.8 500.5,838.9 497.3,837.9 494.4,836.9 491.5,835.8 488.9,834.7 486.5,833.5 484.2,832.2 482.1,830.9 480.3,829.6 478.6,828.3 478.3,828.0 478.0,827.7 477.7,827.4 477.4,827.1 477.1,826.9 476.9,826.6 476.6,826.3 476.4,826.0 476.1,825.7 475.9,825.5 475.7,825.2 475.5,824.9 475.3,824.6 475.1,824.3 474.9,824.0 474.7,823.7 474.5,823.4 474.4,823.1 474.2,822.9 474.1,822.6 473.9,822.3 473.8,822.0 473.7,821.7 473.6,821.4 473.5,821.1 473.4,820.8 473.3,820.5 473.3,820.2 473.2,819.9 473.1,819.6 473.1,819.3 473.1,819.0 473.0,818.7 473.0,818.4 473.0,818.1 473.0,817.8 473.0,817.5 473.0,817.2 473.0,817.2" stroke="#000" stroke-width="44.9"/>
<path d="M637.7,808.1 637.6,808.5 637.5,808.9 637.3,809.3 637.2,809.6 637.0,810.0 637.0,810.3 637.0,810.7 637.0,811.0 636.9,811.4 636.9,811.7 636.8,812.1 636.8,812.4 636.7,812.8 636.6,813.1 636.6,813.5 636.5,813.8 636.4,814.2 636.2,814.5 636.1,814.9 636.0,815.2 635.9,815.6 635.7,815.9 635.5,816.3 635.4,816.6 635.2,816.9 635.0,817.3 634.8,817.6 634.6,818.0 634.4,818.3 634.2,818.6 634.0,819.0 633.7,819.3 633.5,819.7 633.2,820.0 633.0,820.3 632.7,820.7 632.4,821.0 632.2,821.3 631.9,821.7 631.6,822.0 631.2,822.3 630.9,822.6 630.6,823.0 630.3,823.3 629.9,823.6 628.1,825.2 626.0,826.8 623.8,828.3 621.3,829.7 618.7,831.2 615.9,832.5 613.0,833.8 609.9,835.1 606.6,836.3 603.2,837.4 599.7,838.5 596.0,839.5 592.2,840.4 588.4,841.2 584.4,842.0 580.3,842.7 576.2,843.3 572.0,843.8 567.8,844.3 563.6,844.7 559.3,845.0 555.0,845.2 550.7,845.2 546.4,845.2 542.2,845.1 538.0,844.9 533.8,844.6 529.7,844.3 525.6,843.9 521.6,843.4 517.8,842.8 514.0,842.1 510.3,841.4 506.8,840.6 503.4,839.8 500.1,838.8 497.0,837.8 494.1,836.8 491.3,835.7 488.7,834.5 486.2,833.3 484.0,832.1 481.9,830.8 480.1,829.5 478.4,828.1 478.1,827.8 477.8,827.6 477.6,827.3 477.3,827.0 477.0,826.7 476.8,826.4 476.5,826.2 476.3,825.9 476.0,825.6 475.8,825.3 475.6,825.0 475.4,824.7 475.2,824.5 475.0,824.2 474.8,823.9 474.6,823.6 474.5,823.3 474.3,823.0 474.1,822.7 474.0,822.4 473.9,822.1 473.8,821.8 473.6,821.5 473.5,821.2 473.4,821.0 473.4,820.7 473.3,820.4 473.2,820.1 473.2,819.8 473.1,819.5 473.1,819.2 473.0,818.9 473.0,818.6 473.0,818.3 473.0,818.0 473.0,817.7 473.0,817.4 473.0,817.1 473.1,816.7 473.1,816.4 473.1,816.4" stroke="#fff" stroke-width="38.1"/>
<path d="M452,800 L455.8,794 C462,786 470,778.5 479,778.3 C490,778 497,787 500.3,798.5 L501,806 Z" fill="#fff" stroke="#000" stroke-width="3"/>
<path d="M686.8,750.9 686.8,751.5 686.9,752.2 686.9,752.8 686.8,753.5 686.8,754.1 686.8,754.8 686.7,755.5 686.6,756.1 686.6,756.8 686.4,757.4 686.3,758.1 686.2,758.8 686.0,759.4 685.9,760.1 685.7,760.7 685.5,761.4 685.3,762.0 685.1,762.7 684.8,763.3 684.6,764.0 684.3,764.6 684.0,765.3 683.8,765.9 683.4,766.6 683.1,767.2 682.8,767.9 682.4,768.5 682.1,769.1 681.7,769.8 681.3,770.4 680.9,771.1 680.4,771.7 680.0,772.3 679.5,773.0 679.1,773.6 678.6,774.2 678.1,774.8 677.6,775.5 677.1,776.1 676.5,776.7 676.0,777.3 675.4,777.9 672.4,781.0 669.0,784.0 665.3,786.9 661.3,789.7 657.0,792.5 652.4,795.2 647.6,797.8 642.4,800.2 637.0,802.6 631.4,804.9 625.6,807.1 619.5,809.1 613.3,811.1 606.9,812.9 600.3,814.6 593.6,816.1 586.8,817.6 579.9,818.9 572.9,820.0 565.9,821.1 558.8,822.0 551.6,822.7 544.5,823.3 537.4,823.8 530.4,824.2 523.4,824.4 516.4,824.5 509.6,824.4 502.9,824.2 496.3,823.9 489.8,823.5 483.6,822.9 477.5,822.2 471.6,821.4 465.9,820.5 460.5,819.5 455.3,818.4 450.4,817.2 445.7,815.9 441.4,814.5 437.3,813.0 433.6,811.4 430.1,809.8 427.0,808.1 424.3,806.4 423.8,806.0 423.3,805.7 422.8,805.3 422.3,805.0 421.9,804.6 421.4,804.2 421.0,803.9 420.6,803.5 420.2,803.1 419.8,802.8 419.4,802.4 419.1,802.0 418.7,801.6 418.4,801.3 418.1,800.9 417.8,800.5 417.5,800.1 417.3,799.8 417.0,799.4 416.8,799.0 416.6,798.6 416.4,798.2 416.2,797.8 416.0,797.5 415.8,797.1 415.7,796.7 415.5,796.3 415.4,795.9 415.3,795.5 415.2,795.1 415.1,794.8 415.1,794.4 415.0,794.0 415.0,793.6 415.0,793.2 415.1,792.8 415.3,792.3 415.5,791.8 415.5,791.8" stroke="#000" stroke-width="44.9"/>
<path d="M686.7,749.2 686.7,749.9 686.8,750.5 686.8,751.2 686.9,751.8 686.9,752.5 686.9,753.2 686.8,753.8 686.8,754.5 686.7,755.1 686.7,755.8 686.6,756.5 686.5,757.1 686.4,757.8 686.3,758.4 686.1,759.1 686.0,759.7 685.8,760.4 685.6,761.0 685.4,761.7 685.2,762.4 685.0,763.0 684.7,763.7 684.5,764.3 684.2,765.0 683.9,765.6 683.6,766.3 683.3,766.9 682.9,767.5 682.6,768.2 682.2,768.8 681.9,769.5 681.5,770.1 681.1,770.7 680.7,771.4 680.2,772.0 679.8,772.6 679.3,773.3 678.8,773.9 678.3,774.5 677.8,775.2 677.3,775.8 676.8,776.4 676.3,777.0 675.7,777.6 675.1,778.3 672.1,781.3 668.7,784.3 664.9,787.2 660.9,790.0 656.6,792.8 652.0,795.4 647.1,798.0 641.9,800.5 636.5,802.9 630.8,805.1 625.0,807.3 618.9,809.3 612.7,811.3 606.2,813.1 599.7,814.7 592.9,816.3 586.1,817.7 579.2,819.0 572.2,820.2 565.1,821.2 558.0,822.1 550.9,822.8 543.8,823.4 536.7,823.9 529.7,824.2 522.7,824.4 515.7,824.5 508.9,824.4 502.2,824.2 495.6,823.9 489.2,823.4 483.0,822.8 476.9,822.1 471.0,821.3 465.4,820.4 460.0,819.4 454.8,818.3 449.9,817.0 445.3,815.7 440.9,814.3 436.9,812.8 433.2,811.3 429.8,809.6 426.7,808.0 424.0,806.2 423.5,805.9 423.0,805.5 422.6,805.1 422.1,804.8 421.6,804.4 421.2,804.1 420.8,803.7 420.4,803.3 420.0,802.9 419.6,802.6 419.3,802.2 418.9,801.8 418.6,801.5 418.3,801.1 418.0,800.7 417.7,800.3 417.4,799.9 417.1,799.6 416.9,799.2 416.7,798.8 416.5,798.4 416.3,798.0 416.1,797.7 415.9,797.3 415.7,796.9 415.6,796.5 415.5,796.1 415.4,795.7 415.3,795.3 415.2,794.9 415.1,794.6 415.1,794.2 415.0,793.8 415.0,793.4 415.0,793.0 415.2,792.5 415.4,792.1 415.6,791.6 415.9,791.1 416.2,790.7 416.2,790.7" stroke="#fff" stroke-width="38.1"/>
<path d="M686.5,669.9 686.6,670.5 686.6,671.2 686.6,671.8 686.6,672.5 686.5,673.1 686.5,673.8 686.4,674.5 686.4,675.1 686.3,675.8 686.2,676.4 686.1,677.1 685.9,677.8 685.8,678.4 685.6,679.1 685.4,679.7 685.2,680.4 685.0,681.0 684.8,681.7 684.6,682.3 684.3,683.0 684.1,683.6 683.8,684.3 683.5,684.9 683.2,685.6 682.8,686.2 682.5,686.9 682.2,687.5 681.8,688.1 681.4,688.8 681.0,689.4 680.6,690.1 680.2,690.7 679.7,691.3 679.3,692.0 678.8,692.6 678.3,693.2 677.8,693.8 677.3,694.5 676.8,695.1 676.3,695.7 675.7,696.3 675.1,696.9 672.1,700.0 668.7,703.0 665.1,705.9 661.1,708.7 656.8,711.5 652.2,714.2 647.3,716.8 642.2,719.2 636.8,721.6 631.1,723.9 625.3,726.1 619.3,728.1 613.0,730.1 606.6,731.9 600.0,733.6 593.3,735.1 586.5,736.6 579.6,737.9 572.6,739.0 565.6,740.1 558.5,741.0 551.4,741.7 544.3,742.3 537.2,742.8 530.1,743.2 523.1,743.4 516.2,743.5 509.3,743.4 502.6,743.2 496.0,742.9 489.6,742.5 483.3,741.9 477.2,741.2 471.3,740.4 465.7,739.5 460.2,738.5 455.0,737.4 450.1,736.2 445.5,734.9 441.1,733.5 437.0,732.0 433.3,730.4 429.9,728.8 426.8,727.1 424.0,725.4 423.5,725.0 423.0,724.7 422.5,724.3 422.0,724.0 421.6,723.6 421.2,723.2 420.7,722.9 420.3,722.5 419.9,722.1 419.5,721.8 419.2,721.4 418.8,721.0 418.5,720.6 418.1,720.3 417.8,719.9 417.5,719.5 417.3,719.1 417.0,718.8 416.7,718.4 416.5,718.0 416.3,717.6 416.1,717.2 415.9,716.8 415.7,716.5 415.5,716.1 415.4,715.7 415.3,715.3 415.1,714.9 415.0,714.5 415.0,714.1 414.9,713.8 414.8,713.4 414.8,713.0 414.7,712.6 414.7,712.2 414.7,711.8 414.7,711.4 414.8,711.0 414.8,711.0" stroke="#000" stroke-width="44.9"/>
<path d="M686.4,668.2 686.5,668.9 686.5,669.5 686.6,670.2 686.6,670.8 686.6,671.5 686.6,672.2 686.6,672.8 686.5,673.5 686.5,674.1 686.4,674.8 686.3,675.5 686.2,676.1 686.1,676.8 686.0,677.4 685.9,678.1 685.7,678.7 685.5,679.4 685.3,680.0 685.1,680.7 684.9,681.4 684.7,682.0 684.4,682.7 684.2,683.3 683.9,684.0 683.6,684.6 683.3,685.3 683.0,685.9 682.7,686.5 682.3,687.2 682.0,687.8 681.6,688.5 681.2,689.1 680.8,689.7 680.4,690.4 679.9,691.0 679.5,691.6 679.0,692.3 678.6,692.9 678.1,693.5 677.6,694.2 677.1,694.8 676.5,695.4 676.0,696.0 675.4,696.6 674.9,697.3 671.8,700.3 668.4,703.3 664.7,706.2 660.6,709.0 656.3,711.8 651.7,714.4 646.8,717.0 641.6,719.5 636.2,721.9 630.6,724.1 624.7,726.3 618.6,728.3 612.4,730.3 606.0,732.1 599.4,733.7 592.7,735.3 585.8,736.7 578.9,738.0 571.9,739.2 564.9,740.2 557.8,741.1 550.7,741.8 543.5,742.4 536.4,742.9 529.4,743.2 522.4,743.4 515.5,743.5 508.6,743.4 501.9,743.2 495.4,742.9 488.9,742.4 482.7,741.8 476.6,741.1 470.7,740.3 465.1,739.4 459.7,738.4 454.5,737.3 449.6,736.0 445.0,734.7 440.7,733.3 436.6,731.8 432.9,730.3 429.5,728.6 426.5,727.0 423.7,725.2 423.2,724.9 422.8,724.5 422.3,724.1 421.8,723.8 421.4,723.4 420.9,723.1 420.5,722.7 420.1,722.3 419.7,721.9 419.3,721.6 419.0,721.2 418.6,720.8 418.3,720.5 418.0,720.1 417.7,719.7 417.4,719.3 417.1,718.9 416.9,718.6 416.6,718.2 416.4,717.8 416.2,717.4 416.0,717.0 415.8,716.7 415.6,716.3 415.5,715.9 415.3,715.5 415.2,715.1 415.1,714.7 415.0,714.3 414.9,713.9 414.8,713.6 414.8,713.2 414.8,712.8 414.7,712.4 414.7,712.0 414.7,711.6 414.8,711.2 414.8,710.8 414.8,710.4 414.9,710.1 414.9,710.1" stroke="#fff" stroke-width="38.1"/>
<path d="M686.3,588.9 686.3,589.5 686.3,590.2 686.3,590.8 686.3,591.5 686.3,592.1 686.2,592.8 686.2,593.5 686.1,594.1 686.0,594.8 685.9,595.4 685.8,596.1 685.7,596.8 685.5,597.4 685.3,598.1 685.2,598.7 685.0,599.4 684.8,600.0 684.5,600.7 684.3,601.3 684.0,602.0 683.8,602.6 683.5,603.3 683.2,603.9 682.9,604.6 682.6,605.2 682.2,605.9 681.9,606.5 681.5,607.1 681.1,607.8 680.7,608.4 680.3,609.1 679.9,609.7 679.5,610.3 679.0,611.0 678.5,611.6 678.1,612.2 677.6,612.8 677.0,613.5 676.5,614.1 676.0,614.7 675.4,615.3 674.9,615.9 671.8,619.0 668.5,622.0 664.8,624.9 660.8,627.7 656.5,630.5 651.9,633.2 647.0,635.8 641.9,638.2 636.5,640.6 630.9,642.9 625.0,645.1 619.0,647.1 612.7,649.1 606.3,650.9 599.8,652.6 593.1,654.1 586.3,655.6 579.3,656.9 572.4,658.0 565.3,659.1 558.2,660.0 551.1,660.7 544.0,661.3 536.9,661.8 529.8,662.2 522.8,662.4 515.9,662.5 509.1,662.4 502.3,662.2 495.7,661.9 489.3,661.5 483.0,660.9 476.9,660.2 471.1,659.4 465.4,658.5 459.9,657.5 454.8,656.4 449.8,655.2 445.2,653.9 440.8,652.5 436.8,651.0 433.0,649.4 429.6,647.8 426.5,646.1 423.7,644.4 423.2,644.0 422.7,643.7 422.2,643.3 421.8,643.0 421.3,642.6 420.9,642.2 420.5,641.9 420.0,641.5 419.6,641.1 419.3,640.8 418.9,640.4 418.5,640.0 418.2,639.6 417.9,639.3 417.6,638.9 417.3,638.5 417.0,638.1 416.7,637.8 416.5,637.4 416.2,637.0 416.0,636.6 415.8,636.2 415.6,635.8 415.4,635.5 415.3,635.1 415.1,634.7 415.0,634.3 414.9,633.9 414.8,633.5 414.7,633.1 414.6,632.8 414.5,632.4 414.5,632.0 414.5,631.6 414.5,631.2 414.5,630.8 414.5,630.4 414.5,630.0 414.5,630.0" stroke="#000" stroke-width="44.9"/>
<path d="M686.1,587.2 686.2,587.9 686.2,588.5 686.3,589.2 686.3,589.8 686.3,590.5 686.3,591.2 686.3,591.8 686.3,592.5 686.2,593.1 686.1,593.8 686.1,594.5 686.0,595.1 685.8,595.8 685.7,596.4 685.6,597.1 685.4,597.7 685.3,598.4 685.1,599.0 684.9,599.7 684.7,600.4 684.4,601.0 684.2,601.7 683.9,602.3 683.6,603.0 683.4,603.6 683.1,604.3 682.7,604.9 682.4,605.5 682.1,606.2 681.7,606.8 681.3,607.5 680.9,608.1 680.5,608.7 680.1,609.4 679.7,610.0 679.2,610.6 678.8,611.3 678.3,611.9 677.8,612.5 677.3,613.2 676.8,613.8 676.3,614.4 675.7,615.0 675.2,615.6 674.6,616.3 671.5,619.3 668.1,622.3 664.4,625.2 660.4,628.0 656.0,630.8 651.4,633.4 646.5,636.0 641.4,638.5 635.9,640.9 630.3,643.1 624.4,645.3 618.4,647.3 612.1,649.3 605.7,651.1 599.1,652.7 592.4,654.3 585.6,655.7 578.7,657.0 571.7,658.2 564.6,659.2 557.5,660.1 550.4,660.8 543.3,661.4 536.2,661.9 529.1,662.2 522.1,662.4 515.2,662.5 508.4,662.4 501.7,662.2 495.1,661.9 488.7,661.4 482.4,660.8 476.3,660.1 470.5,659.3 464.8,658.4 459.4,657.4 454.3,656.3 449.4,655.0 444.7,653.7 440.4,652.3 436.4,650.8 432.7,649.3 429.3,647.6 426.2,646.0 423.5,644.2 423.0,643.9 422.5,643.5 422.0,643.1 421.5,642.8 421.1,642.4 420.7,642.1 420.2,641.7 419.8,641.3 419.5,640.9 419.1,640.6 418.7,640.2 418.4,639.8 418.0,639.5 417.7,639.1 417.4,638.7 417.1,638.3 416.9,637.9 416.6,637.6 416.4,637.2 416.1,636.8 415.9,636.4 415.7,636.0 415.5,635.7 415.4,635.3 415.2,634.9 415.1,634.5 414.9,634.1 414.8,633.7 414.7,633.3 414.6,632.9 414.6,632.6 414.5,632.2 414.5,631.8 414.5,631.4 414.5,631.0 414.5,630.6 414.5,630.2 414.5,629.8 414.6,629.4 414.6,629.1 414.6,629.1" stroke="#fff" stroke-width="38.1"/>
<path d="M686.0,507.9 686.0,508.5 686.0,509.2 686.0,509.8 686.0,510.5 686.0,511.1 686.0,511.8 685.9,512.5 685.8,513.1 685.7,513.8 685.6,514.4 685.5,515.1 685.4,515.8 685.2,516.4 685.1,517.1 684.9,517.7 684.7,518.4 684.5,519.0 684.3,519.7 684.0,520.3 683.8,521.0 683.5,521.6 683.2,522.3 682.9,522.9 682.6,523.6 682.3,524.2 682.0,524.9 681.6,525.5 681.2,526.1 680.9,526.8 680.5,527.4 680.0,528.1 679.6,528.7 679.2,529.3 678.7,530.0 678.3,530.6 677.8,531.2 677.3,531.8 676.8,532.5 676.2,533.1 675.7,533.7 675.2,534.3 674.6,534.9 671.6,538.0 668.2,541.0 664.5,543.9 660.5,546.7 656.2,549.5 651.6,552.2 646.7,554.8 641.6,557.2 636.2,559.6 630.6,561.9 624.8,564.1 618.7,566.1 612.5,568.1 606.1,569.9 599.5,571.6 592.8,573.1 586.0,574.6 579.1,575.9 572.1,577.0 565.0,578.1 557.9,579.0 550.8,579.7 543.7,580.3 536.6,580.8 529.5,581.2 522.5,581.4 515.6,581.5 508.8,581.4 502.1,581.2 495.5,580.9 489.0,580.5 482.8,579.9 476.7,579.2 470.8,578.4 465.1,577.5 459.7,576.5 454.5,575.4 449.6,574.2 444.9,572.9 440.5,571.5 436.5,570.0 432.7,568.4 429.3,566.8 426.2,565.1 423.5,563.4 422.9,563.0 422.4,562.7 422.0,562.3 421.5,562.0 421.0,561.6 420.6,561.2 420.2,560.9 419.8,560.5 419.4,560.1 419.0,559.8 418.6,559.4 418.3,559.0 417.9,558.6 417.6,558.3 417.3,557.9 417.0,557.5 416.7,557.1 416.5,556.8 416.2,556.4 416.0,556.0 415.7,555.6 415.5,555.2 415.3,554.8 415.2,554.5 415.0,554.1 414.8,553.7 414.7,553.3 414.6,552.9 414.5,552.5 414.4,552.1 414.3,551.8 414.3,551.4 414.2,551.0 414.2,550.6 414.2,550.2 414.2,549.8 414.2,549.4 414.2,549.0" stroke="#000" stroke-width="44.9"/>
<path d="M685.9,506.2 685.9,506.9 686.0,507.5 686.0,508.2 686.0,508.8 686.0,509.5 686.0,510.2 686.0,510.8 686.0,511.5 685.9,512.1 685.9,512.8 685.8,513.5 685.7,514.1 685.6,514.8 685.4,515.4 685.3,516.1 685.1,516.7 685.0,517.4 684.8,518.0 684.6,518.7 684.4,519.4 684.1,520.0 683.9,520.7 683.6,521.3 683.4,522.0 683.1,522.6 682.8,523.3 682.5,523.9 682.1,524.5 681.8,525.2 681.4,525.8 681.0,526.5 680.7,527.1 680.3,527.7 679.8,528.4 679.4,529.0 679.0,529.6 678.5,530.3 678.0,530.9 677.5,531.5 677.0,532.2 676.5,532.8 676.0,533.4 675.4,534.0 674.9,534.6 674.3,535.3 671.2,538.3 667.8,541.3 664.1,544.2 660.1,547.0 655.8,549.8 651.1,552.4 646.2,555.0 641.1,557.5 635.7,559.9 630.0,562.1 624.2,564.3 618.1,566.3 611.8,568.3 605.4,570.1 598.8,571.7 592.1,573.3 585.3,574.7 578.4,576.0 571.4,577.2 564.3,578.2 557.2,579.1 550.1,579.8 543.0,580.4 535.9,580.9 528.8,581.2 521.8,581.4 514.9,581.5 508.1,581.4 501.4,581.2 494.8,580.9 488.4,580.4 482.1,579.8 476.1,579.1 470.2,578.3 464.6,577.4 459.1,576.4 454.0,575.3 449.1,574.0 444.5,572.7 440.1,571.3 436.1,569.8 432.4,568.3 429.0,566.6 425.9,565.0 423.2,563.2 422.7,562.9 422.2,562.5 421.7,562.1 421.3,561.8 420.8,561.4 420.4,561.1 420.0,560.7 419.6,560.3 419.2,559.9 418.8,559.6 418.4,559.2 418.1,558.8 417.8,558.5 417.4,558.1 417.1,557.7 416.9,557.3 416.6,556.9 416.3,556.6 416.1,556.2 415.8,555.8 415.6,555.4 415.4,555.0 415.2,554.7 415.1,554.3 414.9,553.9 414.8,553.5 414.7,553.1 414.5,552.7 414.4,552.3 414.4,551.9 414.3,551.6 414.2,551.2 414.2,550.8 414.2,550.4 414.2,550.0 414.2,549.6 414.2,549.2 414.3,548.8 414.3,548.4 414.4,548.1" stroke="#fff" stroke-width="38.1"/>
<path d="M685.7,440.5 685.8,441.1 685.8,441.7 685.8,442.3 685.8,442.9 685.7,443.5 685.7,444.1 685.6,444.8 685.5,445.4 685.5,446.0 685.4,446.6 685.2,447.2 685.1,447.8 685.0,448.4 684.8,449.0 684.6,449.7 684.4,450.3 684.2,450.9 684.0,451.5 683.8,452.1 683.5,452.7 683.2,453.3 683.0,453.9 682.7,454.5 682.4,455.1 682.0,455.7 681.7,456.3 681.3,456.9 681.0,457.5 680.6,458.1 680.2,458.7 679.8,459.3 679.3,459.9 678.9,460.5 678.5,461.0 678.0,461.6 677.5,462.2 677.0,462.8 676.5,463.4 676.0,464.0 675.4,464.5 674.9,465.1 674.3,465.7 671.3,468.5 667.9,471.3 664.2,473.9 660.2,476.6 655.9,479.1 651.3,481.5 646.5,483.9 641.3,486.2 636.0,488.3 630.3,490.4 624.5,492.3 618.4,494.2 612.2,495.9 605.8,497.5 599.2,498.9 592.5,500.3 585.7,501.5 578.8,502.6 571.8,503.5 564.8,504.3 557.7,505.0 550.6,505.5 543.4,505.9 536.3,506.2 529.3,506.3 522.3,506.3 515.3,506.1 508.5,505.8 501.8,505.4 495.2,504.9 488.8,504.2 482.5,503.4 476.4,502.5 470.5,501.5 464.8,500.4 459.4,499.1 454.2,497.8 449.3,496.3 444.6,494.8 440.3,493.2 436.2,491.5 432.5,489.7 429.0,487.9 425.9,486.0 423.2,484.0 422.7,483.6 422.2,483.2 421.7,482.8 421.2,482.4 420.8,482.0 420.3,481.6 419.9,481.2 419.5,480.7 419.1,480.3 418.7,479.9 418.3,479.5 418.0,479.1 417.7,478.7 417.3,478.2 417.0,477.8 416.7,477.4 416.4,477.0 416.2,476.5 415.9,476.1 415.7,475.7 415.5,475.3 415.3,474.8 415.1,474.4 414.9,474.0 414.7,473.5 414.6,473.1 414.4,472.7 414.3,472.3 414.2,471.8 414.1,471.4 414.1,471.0 414.0,470.5 414.0,470.1 413.9,469.7 413.9,469.2 413.9,468.8 413.9,468.4 414.0,468.0" stroke="#000" stroke-width="44.9"/>
<path d="M685.6,439.0 685.7,439.6 685.7,440.2 685.7,440.8 685.8,441.4 685.8,442.0 685.8,442.6 685.7,443.2 685.7,443.8 685.7,444.5 685.6,445.1 685.5,445.7 685.4,446.3 685.3,446.9 685.2,447.5 685.0,448.1 684.9,448.7 684.7,449.4 684.5,450.0 684.3,450.6 684.1,451.2 683.9,451.8 683.6,452.4 683.4,453.0 683.1,453.6 682.8,454.2 682.5,454.8 682.2,455.4 681.9,456.0 681.5,456.6 681.2,457.2 680.8,457.8 680.4,458.4 680.0,459.0 679.6,459.6 679.1,460.2 678.7,460.8 678.2,461.3 677.7,461.9 677.3,462.5 676.8,463.1 676.2,463.7 675.7,464.2 675.2,464.8 674.6,465.4 674.0,466.0 671.0,468.8 667.6,471.5 663.9,474.2 659.8,476.8 655.5,479.3 650.9,481.8 646.0,484.1 640.8,486.4 635.4,488.5 629.8,490.6 623.9,492.5 617.8,494.3 611.6,496.0 605.1,497.6 598.6,499.1 591.9,500.4 585.0,501.6 578.1,502.7 571.1,503.6 564.1,504.4 557.0,505.0 549.8,505.5 542.7,505.9 535.6,506.2 528.6,506.3 521.6,506.3 514.7,506.1 507.8,505.8 501.1,505.4 494.5,504.8 488.1,504.1 481.9,503.3 475.8,502.4 469.9,501.4 464.3,500.2 458.9,499.0 453.7,497.6 448.8,496.2 444.2,494.6 439.9,493.0 435.8,491.3 432.1,489.5 428.7,487.7 425.6,485.8 422.9,483.8 422.4,483.4 421.9,483.0 421.5,482.6 421.0,482.2 420.6,481.8 420.1,481.4 419.7,480.9 419.3,480.5 418.9,480.1 418.5,479.7 418.2,479.3 417.8,478.9 417.5,478.4 417.2,478.0 416.9,477.6 416.6,477.2 416.3,476.8 416.1,476.3 415.8,475.9 415.6,475.5 415.4,475.1 415.2,474.6 415.0,474.2 414.8,473.8 414.6,473.3 414.5,472.9 414.4,472.5 414.3,472.0 414.2,471.6 414.1,471.2 414.0,470.7 414.0,470.3 413.9,469.9 413.9,469.4 413.9,469.0 413.9,468.6 413.9,468.2 414.0,467.8 414.0,467.4 414.1,467.1" stroke="#fff" stroke-width="38.1"/>
<g transform="translate(507.6,457.6) rotate(-176.5)"><ellipse rx="9.2" ry="22.45" fill="#000"/><ellipse rx="5.8" ry="19.05" fill="#fff"/></g>
<path d="M507.6,457.6 500.8,457.1 494.3,456.6 487.8,455.8 481.6,455.0 475.5,454.1 469.7,453.0 464.0,451.8 458.6,450.5 453.4,449.1 448.5,447.7 443.9,446.1 439.6,444.4 435.6,442.7 431.8,440.9 428.4,439.0 425.4,437.0 422.7,435.0 422.2,434.6 421.7,434.2 421.2,433.8 420.7,433.4 420.3,433.0 419.8,432.5 419.4,432.1 419.0,431.7 418.6,431.3 418.3,430.9 417.9,430.4 417.6,430.0 417.2,429.6 416.9,429.2 416.6,428.7 416.3,428.3 416.0,427.9 415.8,427.4 415.5,427.0 415.3,426.6 415.1,426.1 414.9,425.7 414.7,425.3 414.5,424.8 414.4,424.4 414.2,424.0 414.1,423.5 414.0,423.1 413.9,422.6 413.8,422.2 413.8,421.8 413.7,421.3 413.7,420.9 413.6,420.4 413.6,420.0 413.6,419.5 413.7,419.1 413.7,418.9" stroke="#000" stroke-width="44.9"/>
<path d="M507.6,457.6 500.8,457.1 494.3,456.6 487.8,455.8 481.6,455.0 475.5,454.1 469.7,453.0 464.0,451.8 458.6,450.5 453.4,449.1 448.5,447.7 443.9,446.1 439.6,444.4 435.6,442.7 431.8,440.9 428.4,439.0 425.4,437.0 422.7,435.0 422.2,434.6 421.7,434.2 421.2,433.8 420.7,433.4 420.3,433.0 419.8,432.5 419.4,432.1 419.0,431.7 418.6,431.3 418.3,430.9 417.9,430.4 417.6,430.0 417.2,429.6 416.9,429.2 416.6,428.7 416.3,428.3 416.0,427.9 415.8,427.4 415.5,427.0 415.3,426.6 415.1,426.1 414.9,425.7 414.7,425.3 414.5,424.8 414.4,424.4 414.2,424.0 414.1,423.5 414.0,423.1 413.9,422.6 413.8,422.2 413.8,421.8 413.7,421.3 413.7,420.9 413.6,420.4 413.6,420.0 413.6,419.5 413.7,419.1 413.7,418.6 413.8,418.2 413.8,417.7 413.8,417.7" stroke="#fff" stroke-width="38.1"/>
<g transform="translate(507.6,457.6) rotate(-176.5)"><ellipse rx="5.8" ry="19.05" fill="#fff"/></g>
</g>

<g id="p11" stroke="#000" fill="#fff" stroke-linejoin="round">
<path d="M425.6,957 L426,966 A117,45 0 0 0 660,966 L660,957 Z" stroke-width="3.3"/>
<ellipse cx="542.8" cy="957" rx="117.2" ry="45.8" stroke="none"/>
<path d="M425.6,957 A117.2,45.8 0 0 1 660,957" stroke-width="3.3" fill="none"/>
<path d="M425.6,957 A117.2,45.8 0 0 0 660,957" stroke-width="1.2" fill="none"/>
<ellipse cx="542.8" cy="966" rx="79.3" ry="22.3" stroke-width="1.1" fill="none"/>
<path d="M476,949 A66.7,29 0 0 0 609.5,949" stroke-width="1.1" fill="none"/>
<path d="M476,949 L476,940 A66.7,21 0 0 1 609.5,940 L609.5,949" stroke-width="3.3"/>
<ellipse cx="542.8" cy="951.2" rx="61.6" ry="17.8" stroke-width="3.4"/>
<path d="M483,945 A60,15 0 0 1 602,945" stroke-width="1" fill="none"/>
</g>

<g id="shock" stroke="#000" fill="#fff" stroke-linejoin="round" stroke-linecap="round">
<!-- lower body -->
<path d="M495.8,1680 L497,1892.4 A50,13.6 0 0 0 597,1892.4 L595.5,1680 Z" stroke-width="3.3"/>
<!-- eye housing -->
<path d="M497,1892.4 A50,13.6 0 0 0 597,1892.4 L592,1904 L612,1935 L575,2016 L549.4,2009.9 C540,2007 532,2004.5 522.2,2001.4 C514,1999 507,1996 500,1992.9 C494,1990.5 489,1987 483,1981 C479,1977 476,1972 474.5,1965.6 C473.5,1960 472.8,1955 472.8,1946.9 C472.8,1942 473.5,1937 476.2,1929.9 C477,1925 480,1918 484.7,1909.4 C486,1905 490,1900 497,1892.4 Z" stroke-width="3.3"/>
<path d="M497,1892.4 A50,13.6 0 0 0 597,1892.4" stroke-width="3.3" fill="none"/>
<!-- left tab -->
<path d="M485,1905 L449,1900.5 C444,1900 441.5,1903 441.8,1908 L442.5,1926 C443,1930 446,1932 450,1932.5 L476.5,1938.5 Z" stroke-width="3.3"/>
<path d="M452.5,1917.5 C452,1914.5 455,1913.8 459,1914.5 L470,1917 C474,1918 475,1920 474.5,1923 C474,1926.5 471,1927.5 467,1927 L456,1924.5 C453.5,1923.5 452.6,1921 452.5,1917.5 Z" stroke-width="2.4"/>
<path d="M470,1904 L482,1906" stroke-width="2.2" fill="none"/>
<!-- eye (bushing) -->
<ellipse cx="582" cy="1960" rx="42.5" ry="57.5" transform="rotate(12 582 1960)" stroke-width="3.3"/>
<ellipse cx="584" cy="1959" rx="40" ry="55" transform="rotate(12 584 1959)" stroke-width="1" fill="none"/>
<path d="M551,1932 C556,1920 566,1912 580,1913" stroke-width="1" fill="none"/>
<path d="M556,1985 C552,1975 550,1965 551,1955" stroke-width="1" fill="none"/>
<ellipse cx="589" cy="1962" rx="28.5" ry="37" transform="rotate(12 589 1962)" stroke-width="1.2" fill="none"/>
<ellipse cx="590" cy="1962" rx="25" ry="33" transform="rotate(12 590 1962)" stroke-width="1.1" fill="none"/>
<ellipse cx="592" cy="1963" rx="20" ry="27" transform="rotate(12 592 1963)" stroke-width="2.6"/>
<ellipse cx="593" cy="1963" rx="15" ry="21" transform="rotate(12 593 1963)" stroke-width="1.1" fill="none"/>
<!-- right tab (through-bolt sleeve) -->
<path d="M586,1950.3 L612,1955 L618,1958 L633,1960.5 L648,1966 C653,1968 655,1972 654.5,1976 L653,1990 C652.5,1994 650,1996.3 645,1996.3 L620,1993 L612,1988 L586,1980 C580,1978 578,1975 578.5,1970 L579,1958 C579.5,1953 582,1950.3 586,1950.3 Z" stroke-width="3.3"/>
<path d="M618,1958 L618,1988 M612,1955 L612,1988 M618,1966 L652,1972" stroke-width="1.2" fill="none"/>
<path d="M590.5,1968.5 C590,1965.5 593,1964.8 597,1965.5 L608,1968 C612,1969 613,1971 612.5,1974 C612,1977.5 609,1978.5 605,1978 L594,1975.5 C591.5,1974.5 590.6,1972 590.5,1968.5 Z" stroke-width="2.4"/>
<!-- spring seat flange -->
<path d="M431.7,1648 L432.5,1656 A114,38 0 0 0 660,1656 L660.7,1648 Z" stroke-width="3.3"/>
<ellipse cx="546.2" cy="1648" rx="114.5" ry="39" stroke="none"/>
<path d="M431.7,1648 A114.5,39 0 0 1 660.7,1648" stroke-width="3.3" fill="none"/>
<path d="M431.7,1648 A114.5,39 0 0 0 660.7,1648" stroke-width="1.2" fill="none"/>
<path d="M471,1640 A75.5,20 0 0 0 622,1640" stroke-width="1.1" fill="none"/>
<path d="M471,1640 L471.5,1636" stroke-width="1.1" fill="none"/>
<!-- collar stack -->
<path d="M484.6,1595 L485,1635.4 A59.5,14 0 0 0 606.1,1635.4 L606.1,1595 Z" stroke-width="3.3"/>
<path d="M486.3,1609 A58.1,14 0 0 0 602.6,1609" stroke-width="2.8" fill="none"/>
<path d="M486.3,1624.8 A59,12.4 0 0 0 604.3,1623" stroke-width="1.6" fill="none"/>
<path d="M486.3,1627.5 A59,12.4 0 0 0 604.3,1625.7" stroke-width="1" fill="none"/>
<path d="M488,1570 C488,1565 492,1563.2 495,1563.2 L596,1563.2 C599,1563.2 601.7,1566 601.7,1570 L601.7,1602 A56.85,12.3 0 0 1 488,1602 Z" stroke="none"/>
<path d="M488,1602 V1570 C488,1565 492,1563.2 495,1563.2 M596,1563.2 C599,1563.2 601.7,1566 601.7,1570 V1602" stroke-width="3.3" fill="none"/>
<path d="M488,1602 A56.85,12.3 0 0 0 601.7,1602" stroke-width="1.3" fill="none"/>
<!-- main body -->
<path d="M493.4,1366 L496,1570 A48.5,19.5 0 0 0 593,1570 L595.5,1366 Z" stroke="none"/>
<path d="M493.4,1366 L496,1570 M593,1570 L595.5,1366" stroke-width="3.3" fill="none"/>
<path d="M496,1570 A48.5,19.5 0 0 0 593,1570" stroke-width="1.3" fill="none"/>
<path d="M493.9,1376 C495,1379 496,1380 497.2,1380 A47,12.5 0 0 0 591.2,1380" stroke-width="1.1" fill="none"/>
<path d="M497.2,1383 A47,12.5 0 0 0 591.2,1383" stroke-width="1.1" fill="none"/>
<!-- top cap -->
<path d="M484,1341 L484.5,1351 C487,1356 488,1359 489,1361 C500,1366 510,1369 519.5,1370 C525,1371 530,1372.5 531,1373 C532,1368 535,1366 544,1366 C553,1366 556,1368 557,1373 C570,1371 585,1366 593.6,1361.8 C600,1358 604,1355 605.2,1352.7 L605.2,1341 Z" stroke-width="3.3"/>
<ellipse cx="544.6" cy="1341" rx="60.6" ry="22.5" stroke="none"/>
<path d="M484,1341 A60.6,22.5 0 0 1 605.2,1341" stroke-width="3.3" fill="none"/>
<path d="M484,1341 A60.6,22.5 0 0 0 605.2,1341" stroke-width="1.2" fill="none"/>
<ellipse cx="544.6" cy="1344" rx="54" ry="13.6" stroke-width="1.1" fill="none"/>
<path d="M486.5,1349.5 A58,12.5 0 0 0 601,1347.8" stroke-width="1.1" fill="none"/>
<g stroke-width="1.4"><ellipse cx="521.1" cy="1328" rx="2.6" ry="1.4"/><ellipse cx="567.7" cy="1326.4" rx="2.6" ry="1.4"/><ellipse cx="524.4" cy="1349.5" rx="2.6" ry="1.4"/><ellipse cx="571.4" cy="1347.4" rx="2.6" ry="1.4"/></g>
<ellipse cx="544.6" cy="1339.9" rx="17.7" ry="5.4" stroke-width="3.2"/>
<!-- rod -->
<path d="M529.5,1339 V1212 H559.4 V1339 A15,4.5 0 0 1 529.5,1339 Z" stroke-width="3.3"/>
<path d="M528.6,1212 V1206.5 Q544,1204 559.4,1206.5 V1212 Q544,1214.5 528.6,1212 Z" stroke-width="1.6"/>
<path d="M531.2,1206 V1101 H554.7 V1206" stroke-width="3.3"/>
<path d="M530.3,1186 V1136 H556.8 V1186 Z" stroke-width="2.6"/>
<path d="M531,1139 Q543.5,1142 556,1139 M531,1143.5 Q543.5,1146.5 556,1143.5 M531,1148 Q543.5,1151 556,1148 M531,1152.5 Q543.5,1155.5 556,1152.5 M531,1157 Q543.5,1160 556,1157 M531,1161.5 Q543.5,1164.5 556,1161.5 M531,1166 Q543.5,1169 556,1166 M531,1170.5 Q543.5,1173.5 556,1170.5 M531,1175 Q543.5,1178 556,1175 M531,1179.5 Q543.5,1182.5 556,1179.5" stroke-width="1" fill="none"/>
<path d="M533.9,1101 V1059 Q543,1054.5 552.4,1059 V1101" stroke-width="3.3"/>
<path d="M534.5,1104 H553.8 M544.5,1104 V1136" stroke-width="1" fill="none"/>
<ellipse cx="543.2" cy="1059" rx="9" ry="3.6" stroke-width="3.3" fill="#000"/>
</g>

<g id="clip" stroke="#000" fill="#fff" stroke-linejoin="round" stroke-linecap="round">
<path d="M644.6,1789.5 C647,1787 650,1785.5 652.9,1783.6 L654.2,1772.5 C654.5,1770 656,1769.2 658.5,1769.6 L676,1773.6 C678.5,1774.3 679.5,1776 679.3,1779 L678.8,1801 L650,1796 Z" stroke-width="3.3"/>
<path d="M653,1786 L662,1789.3" stroke-width="1.1" fill="none"/>
<path d="M632,1790.2 C640,1789.5 650,1793 657,1799.5 C659,1801 659.5,1803 659.5,1805 L659,1820 C658.5,1824 655,1827 651.2,1827 L627,1818.7 C624,1817.5 623.2,1815 623.2,1812 L624,1797 C624.5,1793 627.5,1790.5 632,1790.2 Z" stroke-width="3.3"/>
<path d="M629.5,1794.5 L654,1802 M656.5,1803 L656,1822" stroke-width="1.2" fill="none"/>
<path d="M632,1796 L630.5,1812 L632.5,1813 L633.5,1806 L649.5,1811 L648.5,1818 L651,1819 L651.5,1802" stroke-width="2.6" fill="none"/>
<path d="M662.5,1801.6 L689.5,1804 C693,1804.5 694.8,1807 694.4,1810 L688.5,1826.5 C687,1830 684,1831 681,1830.2 L661.5,1822.6 C659.5,1821.5 659,1819.5 659.3,1817 L659.8,1805.5 C660,1803 660.8,1801.7 662.5,1801.6 Z" stroke-width="3.3"/>
<path d="M663.5,1806.8 L689.5,1809 M690,1809.5 L683.5,1827" stroke-width="1.2" fill="none"/>
<path d="M664,1808 L662.5,1816.5 L664.5,1817 L665.5,1811.5 L680,1815.5 L679,1822 L681.5,1822.5 L684.5,1811" stroke-width="2.4" fill="none"/>
</g>

<g id="p2" stroke="#000" fill="#fff" stroke-linejoin="round">
<path d="M1065.4,44 L1069.6,39.6 L1101.6,39.8 L1105.5,44 L1105.5,91.7 C1105.5,96.5 1096,99 1085.3,99 C1074.6,99 1065.4,96.5 1065.4,91.7 Z" stroke-width="2.8"/>
<path d="M1073.5,49 V96.5 M1093,49.5 V96.5" stroke-width="1.1" fill="none"/>
<path d="M1067,42.3 L1073.5,49 Q1083,47.6 1093,49.5 L1103.8,42.3" stroke-width="1.1" fill="none"/>
<path d="M1071.5,33 V42 Q1085.2,50.5 1099,42 V33 Z" stroke-width="2.6"/>
<ellipse cx="1085.5" cy="28.8" rx="17.4" ry="6.9" stroke-width="2.8"/>
<path d="M1072,33.6 Q1085.2,39.5 1099,33.4" stroke-width="2.4" fill="none"/>
<ellipse cx="1085.5" cy="29.6" rx="12.8" ry="4.6" stroke-width="1.1" fill="none"/>
<ellipse cx="1085.3" cy="28.6" rx="7.4" ry="3.6" stroke-width="2.6"/>
</g>

<g id="p3" stroke="#000" fill="#fff" stroke-linejoin="round">
<path d="M1061.5,214 C1061.5,204 1111.4,204 1111.4,214 L1111.4,233 C1111.4,245.5 1061.5,245.5 1061.5,233 Z" stroke-width="3.3"/>
<path d="M1064,215.8 Q1086,226 1108.9,215.8" stroke-width="1.1" fill="none"/>
<path d="M1067.7,192.5 Q1069,186 1080.5,183.5 L1091.2,183.5 Q1103,186 1104.4,192.5 L1104.4,216 Q1095,214 1084.6,219.2 Q1075,214 1067.7,215.5 Z" stroke-width="1.2"/>
<path d="M1067.7,216 V192.5 Q1069,186 1080.7,183.2 M1091,183.2 Q1103,186 1104.4,192.5 V216" stroke-width="3.3" fill="none"/>
<path d="M1069.5,197.5 Q1076,197 1084.6,202.2 Q1094,197 1103,198 M1084.6,202.2 V219" stroke-width="1.1" fill="none"/>
<path d="M1080.7,188.5 Q1073.5,189.5 1074,192 Q1076,196.3 1086,196.3 Q1097,196.3 1099,192 Q1098.5,189.5 1091,188.5" stroke-width="2.8" fill="none"/>
<path d="M1084.3,175 V181.5" stroke-width="1.6"/>
</g>

<g id="p4" stroke="#000" fill="#fff" stroke-linejoin="round" stroke-linecap="round">
<!-- lower flange + body -->
<path d="M994.5,505.5 C988,508 985.8,512 986,516 L987.3,530.7 C990,541 1003,548 1016.3,551.2 C1035,556.5 1060,559.7 1084,559.7 C1110,559.7 1135,556.5 1149.2,552.4 C1170,546 1182,537 1183,527 L1184.3,515 C1184,511 1180,508.5 1175.8,507.7 Z" stroke-width="3.3"/>
<path d="M988.5,524.6 C995,535 1010,542 1028.4,546.4 C1050,551 1070,554.8 1088.8,554.8 C1110,554.8 1130,551 1149.2,546.4 C1166,541 1178,534 1181.9,524.6" stroke-width="1.1" fill="none"/>
<path d="M994.5,466 V518.6 C1005,528 1020,535 1040.4,539.1 C1060,543 1075,545.2 1088.8,545.2 C1110,545.2 1135,542 1155,535 C1165,531 1171,528 1175.8,522 V465 Z" stroke-width="3.3"/>
<path d="M998,476.3 C1015,486 1040,494 1064.6,496.8 C1085,499 1105,499 1125,498 C1150,494 1165,487 1173.4,479.9" stroke-width="1.2" fill="none"/>
<path d="M1011.4,470.2 C1013,475 1017,479 1022.3,481.1 C1030,484 1040,486 1047.7,487.1 C1055,488.5 1060,490 1064.6,490.8 C1075,492 1090,492.5 1100.9,492 C1112,491 1122,489 1131.1,487.1 C1142,484 1150,481 1155.3,478.7 C1162,475 1165,471 1167.4,467.8" stroke-width="3.3" fill="none"/>
<path d="M1030.8,479.9 C1035,474 1042,472 1047.7,472 C1055,472 1062,477 1067,484.7 M1099.7,473.8 V488.4 M1127.5,473.8 V482.3 M1132.3,473.8 V482.3 M1146.8,473.8 L1155.3,470.2" stroke-width="1.1" fill="none"/>
<path d="M1042.9,482.3 C1044,478 1046,475.5 1048.9,475.1 C1052,474.8 1055,476.5 1057.4,479.9 C1060,484 1062,488 1064.6,490.8 M1100.9,490.8 C1103,485 1105,481 1107,479.9 C1108.5,478 1110,477.5 1113,477.5 C1116.6,477.5 1118,479 1119,482.3 C1121,485 1123,486 1125,485.9 C1128,486 1130,485 1132.3,483.5" stroke-width="2.6" fill="none"/>
<path d="M1019.9,505.6 C1035,508 1060,511 1079.1,515.5 V525.8 C1060,523 1035,520 1019.9,516 Z" stroke-width="1.1"/>
<path d="M1019.9,505.6 C1035,508 1060,511 1079.1,515.5" stroke-width="2.6" fill="none"/>
<path d="M1139.6,505 C1150,502 1163,498 1173.4,494.4 V504 C1163,509 1150,514 1139.6,518.6 Z" stroke-width="1.1"/>
<path d="M1139.6,505 C1150,502 1163,498 1173.4,494.4" stroke-width="2.6" fill="none"/>
<!-- plate -->
<path d="M928.4,401.8 C936,387 950,378 962,373.5 C990,362 1035,349 1082,348.3 C1125,348 1160,353 1183,361.3 C1205,370 1225,382 1234.5,389.2 C1242,396 1246,405 1246,416.5 C1246,421 1245,424 1242.4,427 C1239,432 1236,436 1231.9,439.3 C1222,446 1214,450 1205.5,452.5 C1190,457 1180,459.5 1170.3,461.3 C1155,464 1145,465 1135.2,465.7 C1120,467 1110,468 1100,468.4 C1080,469.5 1050,468.5 1007.6,467.3 L999.4,465 L945.2,443.8 Z" stroke-width="3.3"/>
<path d="M962,377.5 C952,381 944,386 940.5,393 L939.6,404 L956.4,438.5 C970,443 990,448 1003.2,450.5 C1015,452.5 1035,453.5 1051.5,454.1 C1075,455.5 1095,456.5 1113.1,456.7 C1130,456 1145,453 1152.7,450.8 C1170,447 1180,445 1187.9,442.9 C1200,438 1208,435 1214.3,432.3 C1222,427 1227,423 1230.1,419.1 L1233.6,410.3" stroke-width="1.1" fill="none"/>
<path d="M942.5,406 L958.5,441.5 C975,448 995,455 1007.6,459.3 C1030,461 1070,462 1100,463 C1130,462 1160,458 1187.9,453.4 C1200,450 1215,445 1223.1,441.1 C1230,435 1236,428 1238.9,422.6" stroke-width="1.1" fill="none"/>
<path d="M961.5,377.5 C951,381 943,387 940.5,394 L939.8,404.5" stroke-width="3.3" fill="none"/>
<path d="M1223,382.2 C1229,388 1233,392 1233.6,396.3 C1235,401 1235.4,405 1235.4,409.5" stroke-width="3.3" fill="none"/>
<path d="M1109.7,456.5 V469" stroke-width="1" fill="none"/>
<!-- holes -->
<g stroke-width="2.6"><ellipse cx="995.5" cy="370.9" rx="9.5" ry="3.9"/><ellipse cx="1053.8" cy="359.7" rx="10.8" ry="4.3"/><ellipse cx="996.9" cy="437.3" rx="10.9" ry="4.3"/><ellipse cx="1207.5" cy="415.3" rx="11.5" ry="4.4"/><ellipse cx="1176.3" cy="436.7" rx="9.8" ry="4.1"/></g>
<g stroke-width="1" fill="none"><ellipse cx="1054" cy="361" rx="7.5" ry="2.2"/><ellipse cx="997" cy="438.6" rx="7.5" ry="2.2"/><ellipse cx="1207.8" cy="416.6" rx="7.8" ry="2.2"/></g>
<!-- central boss -->
<path d="M1040.1,404 C1045,413 1060,419 1077.9,419.8 C1090,420.5 1100,421 1110,420" stroke-width="1.1" fill="none"/>
<path d="M1047.1,392.5 C1025,389.9 1015,389 1007.6,389 C1002,389 1000,392 1001.4,395.2 C1003,398 1006,398.7 1010,398.7 C1020,399.5 1032,401 1042.7,402.2 Z" stroke-width="2.6"/>
<path d="M1047.1,392.5 C1055,386 1065,382.5 1080.5,381.5 M1091.1,381.5 C1100,382 1110,384.5 1114.8,387.3" stroke-width="3.3" fill="none"/>
<path d="M1080.5,393 C1065,393.5 1055,396 1053.3,398.7 C1052,404 1065,409.2 1082.3,409.2 C1100,409.2 1113,404 1113.1,398.7 C1112.5,395.5 1100,393 1091.1,393" stroke-width="3.3" fill="none"/>
<path d="M1088.5,414.5 L1094,412.7 L1103,420 L1114.8,428 V434.7 L1104,434 L1090,423 Z" stroke-width="1.1"/>
<path d="M1096,423 L1102,421 L1113,430" stroke-width="1" fill="none"/>
<path d="M1136,377.8 C1145,378 1153,381 1153.6,384 C1150,388 1142,391 1136,391.9" stroke-width="1.1" fill="none"/>
<!-- studs -->
<g stroke-width="2.8">
<path d="M961.6,331.7 L963.9,331.7 V317 C963.9,309 981.6,309 981.6,317 V331.7 H984.5 V390.5 C984.5,394 961.6,394 961.6,390.5 Z"/>
<path d="M1160.3,314 L1162.2,314 V300 C1162.2,291.5 1180.9,291.5 1180.9,300 V314 H1182.7 V372.8 C1182.7,376.5 1160.3,376.5 1160.3,372.8 Z"/>
<path d="M1115.8,387.5 L1117.3,387.5 V373 C1117.3,364.5 1135.6,364.5 1135.6,373 V387.5 H1137.4 V444.6 C1137.4,448.7 1115.8,448.7 1115.8,444.6 Z"/>
</g>
<g stroke-width="1.3" fill="none">
<path d="M964,334 Q973,337 982,334 M964,340.5 Q973,343.5 982,340.5 M964,347 Q973,350 982,347 M964,353.5 Q973,356.5 982,353.5 M964,360 Q973,363 982,360 M964,366.5 Q973,369.5 982,366.5 M964,373 Q973,376 982,373 M964,379.5 Q973,382.5 982,379.5 M964,386 Q973,389 982,386"/>
<path d="M1162.5,316.5 Q1171.5,319.5 1180.5,316.5 M1162.5,323 Q1171.5,326 1180.5,323 M1162.5,329.5 Q1171.5,332.5 1180.5,329.5 M1162.5,336 Q1171.5,339 1180.5,336 M1162.5,342.5 Q1171.5,345.5 1180.5,342.5 M1162.5,349 Q1171.5,352 1180.5,349 M1162.5,355.5 Q1171.5,358.5 1180.5,355.5 M1162.5,362 Q1171.5,365 1180.5,362 M1162.5,368.5 Q1171.5,371.5 1180.5,368.5"/>
<path d="M1118,390 Q1126.5,393 1135,390 M1118,396.5 Q1126.5,399.5 1135,396.5 M1118,403 Q1126.5,406 1135,403 M1118,409.5 Q1126.5,412.5 1135,409.5 M1118,416 Q1126.5,419 1135,416 M1118,422.5 Q1126.5,425.5 1135,422.5 M1118,429 Q1126.5,432 1135,429 M1118,435.5 Q1126.5,438.5 1135,435.5 M1118,442 Q1126.5,445 1135,442"/>
</g>
</g>

<g id="p5" stroke="#000" fill="#fff" stroke-linejoin="round" stroke-linecap="round">
<path d="M977.1,750 L977.1,764.2 C978,770 982,774 987,776 C1000,780 1012,781 1022.6,784 C1031,787 1035,792 1036.5,797.8 C1039,808 1040,818 1042.4,825.5 C1044,831 1048,834.4 1054.3,834.4 C1070,834 1085,832.5 1097.8,831.4 C1120,829 1140,825 1157.1,819.5 C1172,814 1183,803 1186.8,789.9 L1186.8,770 Z" stroke-width="3.3"/>
<path d="M923.5,683 L924.3,718.8 C928,726 933,730 939.7,733.7 C950,740 965,745 977,749 C990,751.5 1000,752 1010.8,752.3 C1020,753.5 1027,756 1030.5,758.2 C1040,764 1045,768 1046.4,774 C1048,780 1048,786 1050.3,789.9 C1053,797 1058,802 1064.2,803.7 C1090,802 1125,796 1157.1,789.9 C1185,784 1205,777 1216.5,768 C1230,759 1238,749 1240.5,738.4 L1241,683 Z" stroke-width="3.3"/>
<path d="M1011,738.5 V753 M1028.6,741 V756" stroke-width="1.1" fill="none"/>
<ellipse cx="1082.3" cy="683" rx="158.8" ry="54.5" stroke="none"/>
<path d="M923.5,683 A158.8,54.5 0 0 1 1241.1,683" stroke-width="3.3" fill="none"/>
<path d="M923.5,683 A158.8,54.5 0 0 0 1241.1,683" stroke-width="1.2" fill="none"/>
<ellipse cx="1082.3" cy="684.5" rx="150" ry="52.2" stroke-width="1.1" fill="none"/>
<ellipse cx="1082" cy="692.5" rx="147" ry="45.5" stroke-width="3.3" fill="none"/>
<path d="M1228.8,694.8 L1178.9,692.1 M1224.1,704.2 L1175.8,698.7 M1213.1,713.1 L1168.5,705.0 M1196.5,721.1 L1157.5,710.6 M1174.8,727.8 L1143.2,715.3 M1149.0,733.0 L1126.2,719.0 M1120.4,736.4 L1107.3,721.4 M1090.0,737.9 L1087.3,722.5 M1059.3,737.5 L1067.1,722.1 M1029.6,735.0 L1047.5,720.4 M1002.2,730.7 L1029.4,717.4 M978.3,724.7 L1013.6,713.2 M958.9,717.4 L1000.8,708.0 M944.9,708.9 L991.5,702.0 M936.9,699.7 L986.2,695.6 M935.2,690.2 L985.1,688.9 M939.9,680.8 L988.2,682.3 M950.9,671.9 L995.5,676.0 M967.5,663.9 L1006.5,670.4 M989.2,657.2 L1020.8,665.7 M1015.0,652.0 L1037.8,662.0 M1043.6,648.6 L1056.7,659.6 M1074.0,647.1 L1076.7,658.5 M1104.7,647.5 L1096.9,658.9 M1134.4,650.0 L1116.5,660.6 M1161.8,654.3 L1134.6,663.6 M1185.7,660.3 L1150.4,667.8 M1205.1,667.6 L1163.2,673.0 M1219.1,676.1 L1172.5,679.0 M1227.1,685.3 L1177.8,685.4" stroke-width="3" fill="none"/>
<path d="M950.9,671.9 L950.9,665.9 L995.5,673.0 M967.5,663.9 L967.5,657.9 L1006.5,667.4 M989.2,657.2 L989.2,651.2 L1020.8,662.7 M1015.0,652.0 L1015.0,646.0 L1037.8,659.0 M1043.6,648.6 L1043.6,642.6 L1056.7,656.6 M1074.0,647.1 L1074.0,641.1 L1076.7,655.5 M1104.7,647.5 L1104.7,641.5 L1096.9,655.9 M1134.4,650.0 L1134.4,644.0 L1116.5,657.6 M1161.8,654.3 L1161.8,648.3 L1134.6,660.6 M1185.7,660.3 L1185.7,654.3 L1150.4,664.8 M1205.1,667.6 L1205.1,661.6 L1163.2,670.0 M1219.1,676.1 L1219.1,670.1 L1172.5,676.0" stroke-width="1.2" fill="none"/>
<path d="M1203.0,695.1 V702.6 M1196.4,703.1 V710.6 M1184.8,710.4 V717.9 M1168.7,716.9 V724.4 M1148.7,722.1 V729.6 M1125.9,725.8 V733.3 M1101.0,728.0 V735.5 M1075.4,728.5 V736.0 M1049.9,727.2 V734.7 M1025.9,724.2 V731.7 M1004.3,719.8 V727.3 M986.1,713.9 V721.4 M972.0,707.0 V714.5 M962.8,699.3 V706.8 M958.7,691.2 V698.7 M960.0,682.9 V690.4 M966.6,674.9 V682.4 M978.2,667.6 V675.1 M994.3,661.1 V668.6 M1014.3,655.9 V663.4 M1037.1,652.2 V659.7 M1062.0,650.0 V657.5 M1087.6,649.5 V657.0 M1113.1,650.8 V658.3 M1137.1,653.8 V661.3 M1158.7,658.2 V665.7 M1176.9,664.1 V671.6 M1191.0,671.0 V678.5 M1200.2,678.7 V686.2 M1204.3,686.8 V694.3" stroke-width="1" fill="none"/>
<ellipse cx="1081.5" cy="693" rx="123" ry="39.5" stroke-width="2.2" fill="none"/>
<ellipse cx="1081.5" cy="694" rx="124.5" ry="40.5" stroke-width="0.8" fill="none"/>
<ellipse cx="1082" cy="690.5" rx="97" ry="32" stroke-width="3.2"/>
<ellipse cx="1082" cy="690.0" rx="92" ry="28" stroke-width="1" fill="none"/>
<path d="M1026.6,724.6 C1045,719.5 1060,717.7 1078,717.7 C1095,717.7 1110,719 1123.5,722.6" stroke-width="3.3" fill="none"/>
<path d="M1109,663.3 V720 M1128.8,664.5 V721.5" stroke-width="2.4" fill="none"/>
<path d="M1109,663.3 Q1119,662 1128.8,664.5" stroke-width="1" fill="none"/>
</g>
<g id="p6" stroke="#000" fill="#fff" stroke-linejoin="round">
<path d="M1037.5,923 V943 C1037.5,966.5 1131,966.5 1131,943 V923 Z" stroke-width="3.3"/>
<ellipse cx="1084.2" cy="923.5" rx="46.8" ry="17" stroke="none"/>
<path d="M1037.4,923.5 A46.8,17 0 0 1 1131,923.5" stroke-width="3.3" fill="none"/>
<path d="M1037.4,923.5 A46.8,17 0 0 0 1131,923.5" stroke-width="1.2" fill="none"/>
<ellipse cx="1084.2" cy="925.2" rx="25" ry="8.2" stroke-width="1.2"/>
<path d="M1062,926 C1064,932 1074,934 1084,934 C1095,934 1105,932 1107,926" stroke-width="3.3" fill="none"/>
<path d="M1064,924 C1068,920 1076,918.5 1084,918.5 C1092,918.5 1100,920 1104,924" stroke-width="1" fill="none"/>
</g>

<g id="p7" stroke="#000" fill="#fff" stroke-linejoin="round" stroke-linecap="round">
<path d="M1030,1164.7 C1029,1172 1029.5,1180 1030.5,1184 C1032,1192 1040,1198 1048.9,1200.9 C1060,1205 1072,1206.8 1083.2,1206.8 C1095,1206.8 1107,1205 1117.4,1200.9 C1127,1197 1135,1192 1137,1184 C1138.5,1178 1139,1172 1139,1164.7 Z" stroke-width="3.3"/>
<path d="M1034,1180 A50,14 0 0 0 1135,1180" stroke-width="1.1" fill="none"/>
<path d="M1025.5,1134.5 C1024.0,1142.2 1025.0,1150.0 1025.5,1153.0 C1026.0,1160.7 1028.0,1162.7 1030.0,1162.0 A54.5,13.5 0 0 0 1139.0,1162.0 C1141.0,1162.7 1143.0,1160.7 1143.5,1153.0 C1144.0,1150.0 1145.0,1142.2 1143.5,1134.5 Z" stroke-width="3.3"/>
<path d="M1028.0,1148.0 A56.5,14.5 0 0 0 1141.0,1148.0" stroke-width="1.1" fill="none"/>
<path d="M1030.0,1153.0 A54.5,14.5 0 0 0 1139.0,1153.0" stroke-width="1" fill="none"/>
<path d="M1021.0,1107.0 C1019.5,1113.5 1020.5,1120.0 1021.0,1123.0 C1021.5,1130.5 1023.5,1132.5 1025.5,1131.8 A59.0,13.5 0 0 0 1143.5,1131.8 C1145.5,1132.5 1147.5,1130.5 1148.0,1123.0 C1148.5,1120.0 1149.5,1113.5 1148.0,1107.0 Z" stroke-width="3.3"/>
<path d="M1023.5,1118.0 A61.0,14.5 0 0 0 1145.5,1118.0" stroke-width="1.1" fill="none"/>
<path d="M1025.5,1123.0 A59.0,14.5 0 0 0 1143.5,1123.0" stroke-width="1" fill="none"/>
<path d="M1019.0,1075.7 C1016.5,1084.3 1017.5,1093.0 1018.0,1096.0 C1018.5,1103.0 1019.0,1105.0 1021.0,1104.3 A63.5,13.5 0 0 0 1148.0,1104.3 C1150.0,1105.0 1150.5,1103.0 1151.0,1096.0 C1151.5,1093.0 1152.5,1084.3 1150.0,1075.7 Z" stroke-width="3.3"/>
<path d="M1020.5,1091.0 A64.0,14.5 0 0 0 1148.5,1091.0" stroke-width="1.1" fill="none"/>
<path d="M1022.5,1096.0 A62.0,14.5 0 0 0 1146.5,1096.0" stroke-width="1" fill="none"/>
<path d="M1019.0,1073.7 A65.5,14.5 0 0 0 1150.0,1073.7" stroke-width="3.2" fill="none"/>
<path d="M1021.0,1105.0 A63.5,14.5 0 0 0 1148.0,1105.0" stroke-width="3.2" fill="none"/>
<path d="M1025.5,1132.5 A59.0,14.5 0 0 0 1143.5,1132.5" stroke-width="3.2" fill="none"/>
<path d="M1030.0,1162.7 A54.5,14.5 0 0 0 1139.0,1162.7" stroke-width="3.2" fill="none"/>
<path d="M1071.4,1203 Q1085,1205.5 1099.8,1203" stroke-width="1.2" fill="none"/>
<path d="M1017,1060 L1022.5,1078.6 C1040,1087 1060,1092.3 1083.5,1092.3 C1107,1092.3 1130,1086 1146.8,1077.6 L1152,1060 Z" stroke-width="1.2"/>
<path d="M1019,1071 C1025,1076 1030,1078.5 1034,1080.5 C1050,1088 1065,1092.3 1083.5,1092.5 C1105,1092.3 1128,1086 1147.5,1076.5" stroke-width="3.2" fill="none"/>
<path d="M1032.3,1070 V1080" stroke-width="1.5" fill="none"/>
<path d="M1043,1074 V1085" stroke-width="1.5" fill="none"/>
<path d="M1075.3,1077 V1090" stroke-width="1.5" fill="none"/>
<path d="M1090,1077 V1090.5" stroke-width="1.5" fill="none"/>
<path d="M1123.3,1073 V1085" stroke-width="1.5" fill="none"/>
<path d="M1134,1069 V1081" stroke-width="1.5" fill="none"/>
<path d="M1043.5,1077.5 Q1060,1083 1075,1084.5 M1090.5,1084.5 Q1108,1083 1123,1077" stroke-width="2.4" fill="none"/>
<path d="M1045,1081.5 Q1060,1086.5 1074,1087.5 M1092,1087.5 Q1108,1086 1122,1081" stroke-width="1" fill="none"/>
<path d="M1154.2,1055.0 L1154.7,1056.9 L1153.9,1058.8 L1152.6,1060.7 L1151.3,1062.5 L1149.8,1064.3 L1147.6,1066.0 L1144.6,1067.5 L1141.6,1068.9 L1139.4,1070.6 L1137.7,1072.4 L1135.3,1074.1 L1131.8,1075.5 L1127.6,1076.5 L1123.3,1077.4 L1119.2,1078.4 L1114.9,1079.2 L1110.3,1079.8 L1105.6,1080.1 L1101.1,1080.7 L1096.7,1081.5 L1092.1,1082.3 L1087.3,1082.7 L1082.4,1082.4 L1077.6,1081.9 L1072.9,1081.4 L1068.3,1081.0 L1063.7,1080.5 L1059.4,1079.7 L1055.2,1078.8 L1050.7,1078.2 L1045.9,1077.6 L1041.3,1076.8 L1037.7,1075.5 L1035.0,1073.9 L1032.6,1072.2 L1029.9,1070.7 L1027.0,1069.2 L1024.6,1067.6 L1022.7,1065.8 L1020.8,1064.1 L1018.3,1062.5 L1016.0,1060.7 L1014.8,1058.9 L1015.3,1056.9 L1016.6,1055.0 L1017.5,1053.2 L1017.7,1051.3 L1018.0,1049.4 L1019.0,1047.6 L1020.5,1045.8 L1021.9,1044.0 L1023.1,1042.1 L1024.9,1040.3 L1028.1,1038.8 L1032.3,1037.7 L1036.3,1036.6 L1039.8,1035.4 L1042.9,1033.9 L1046.4,1032.6 L1050.4,1031.6 L1054.6,1030.7 L1058.8,1029.7 L1063.1,1028.8 L1067.8,1028.3 L1072.8,1028.3 L1077.7,1028.6 L1082.5,1028.7 L1087.2,1028.5 L1092.0,1028.2 L1096.8,1028.2 L1101.5,1028.6 L1106.2,1029.1 L1110.9,1029.6 L1115.5,1030.3 L1119.5,1031.4 L1122.8,1032.9 L1126.0,1034.3 L1129.8,1035.4 L1134.0,1036.4 L1138.0,1037.5 L1141.2,1038.9 L1143.7,1040.6 L1146.1,1042.2 L1148.4,1043.9 L1150.1,1045.7 L1150.6,1047.6 L1150.6,1049.5 L1151.1,1051.3 L1152.6,1053.1 L1154.2,1055.0 Z" stroke-width="3.3"/>
<ellipse cx="1084.4" cy="1055.8" rx="13.5" ry="5.4" stroke-width="2.8" fill="none"/>
</g>
<g id="p8" stroke="#000" fill="#fff" stroke-linejoin="round" stroke-linecap="round">
<!-- bowl + neck -->
<path d="M966,1330 C966.5,1350 968,1365 968.6,1380 C971,1392 974,1400 978.6,1408.6 C984,1420 990,1428 997.1,1432.9 C1002,1437 1005,1440 1007.1,1444.3 C1009,1448 1010,1451 1010,1454.3 L1012.9,1575.7 C1014,1581 1017,1585 1021.4,1588.6 C1035,1595 1055,1598.6 1078.6,1598.6 C1100,1598.6 1120,1595 1135.7,1590 C1142,1587 1147,1581 1148.6,1574.3 L1148.6,1452.9 C1149,1447 1150,1443 1152.9,1440 C1158,1434 1164,1430 1170,1424.3 C1180,1412 1186,1397 1188.6,1380 C1189.5,1370 1190,1360 1190.2,1350 Z" stroke-width="3.3"/>
<path d="M1005.7,1437.1 C1025,1445 1050,1450 1075.7,1450 C1105,1450 1130,1445 1152.9,1437.1" stroke-width="1.1" fill="none"/>
<path d="M1012.9,1464.3 C1030,1474 1055,1481.4 1078.6,1481.4 C1105,1481.4 1128,1474 1145.7,1462.9" stroke-width="1.1" fill="none"/>
<!-- flange -->
<path d="M920.5,1302 A158,62 0 0 1 1236.5,1302 L1236.5,1318 A158,70 0 0 1 1068.8,1387.7 C1060,1387.7 1054,1388 1050.1,1385 C1044,1380 1041,1375 1038.9,1370.1 C1037,1363 1036,1356 1033.3,1351.4 C1030,1347 1026,1345 1022,1344 C1016,1343 1011,1342.5 1007.1,1342 C993,1340 978,1337 966,1334.6 C945,1329 930,1320 923,1308.5 Z" stroke-width="3.3"/>
<path d="M922,1305 C928,1315 945,1324 966,1329 C985,1334 1000,1336.5 1007,1337.5 L1022,1339 C1028,1340 1033,1344 1035.5,1349 C1038,1356 1039,1363 1041,1368 C1044,1375 1049,1379.5 1057,1380.5 A156,68 0 0 0 1235.5,1312" stroke-width="1.1" fill="none"/>
<path d="M1007,1337.5 V1342 M1022,1339 V1344" stroke-width="1.1" fill="none"/>
<!-- inner opening -->
<path d="M950.2,1300 A128.5,47.6 0 0 1 1207.1,1300 A128.5,70 0 0 1 1068.8,1369.3 C1062,1369.2 1059,1368 1057.6,1366.4 C1055,1360 1054,1350 1050.1,1342.1 C1046,1334 1040,1329 1031.4,1327.1 C1020,1325 1012,1323.5 1003.4,1321.5 C985,1317 966,1311 956.7,1306 C952,1303 950.2,1301.5 950.2,1300 Z" stroke-width="3.3"/>
<path d="M956.9,1305 A122.3,39.5 0 0 1 1201.5,1305 A122.3,50 0 0 1 1198.5,1325" stroke-width="1.1" fill="none"/>
<path d="M968,1311 A112,32.4 0 0 1 1192,1311 A112,60 0 0 1 1189.5,1338.5" stroke-width="1.1" fill="none"/>
<path d="M973.5,1313 A105.5,30.7 0 0 1 1184.5,1313 A105.5,60 0 0 1 1182.5,1340.5" stroke-width="1.1" fill="none"/>
</g>



<!-- assembly centre lines -->
<g stroke="#fff" stroke-width="10" fill="none" stroke-linecap="butt">
<path d="M543,354 V422"/>
<path d="M543,905 V940"/>
<path d="M1085.7,344 V392.7"/>
<path d="M1085.9,624 V667"/>
<path d="M1085,903 V912"/>
<path d="M1084.6,1236 V1286"/>
<path d="M1084.5,1024 V1036"/>
<path d="M1084.5,1046 V1052" stroke-width="8"/>

</g>
<g stroke="#000" stroke-width="1.8" fill="none">
<path d="M543,429 V293 L651.9,251.4 M662.3,247.4 L682.6,239.6 M693.1,235.6 L802,193.7 V568.9 M802,579.6 V601.4 M802,611.9 V956.2 M802,967.2 V989.2 M802,1000.2 V1354.4 M802,1365.2 V1386.7 M802,1397.7 V1763.7 L922.4,1720.3 M932.1,1716.8 L954,1708.9 M962.9,1705.7 L1084.2,1656.5 V1610.8"/>
<path d="M543,878 V964.6 M542.8,1011.3 V1041"/>
<path d="M653,1834 L624,1950"/>
<path d="M1085.7,108.8 V182.4 M1085.7,251.6 V392.7 M1085.9,575.7 V693 M1085.9,842.3 V918.6 M1084,969.8 V1040.8 M1084,1218 V1321.5"/>

</g>

<!-- jp box -->
<rect x="5" y="1978" width="53" height="38" fill="none" stroke="#000" stroke-width="3.8"/>
<text x="22.5" y="2006" font-size="27" stroke="#000" stroke-width="0.3">jp</text>

<!-- gm spo logo -->
<rect x="1768.1" y="1980" width="52.5" height="65.3" fill="none" stroke="#000" stroke-width="2"/>
<rect x="1771.4" y="1983.1" width="45.6" height="57.8" fill="#000"/>
<ellipse cx="1794.5" cy="1993.5" rx="17" ry="7" fill="#fff"/>
<rect x="1776.9" y="2005.9" width="35.5" height="30.9" fill="#fff"/>
<text x="1794.5" y="2017" font-size="19" font-family="Liberation Serif" font-weight="bold" text-anchor="middle" style="font-family:'Liberation Serif',serif">gm</text>
<text x="1794.5" y="2035" font-size="19" font-family="Liberation Serif" font-weight="bold" text-anchor="middle" style="font-family:'Liberation Serif',serif">spo</text>
</svg>
</body></html>
